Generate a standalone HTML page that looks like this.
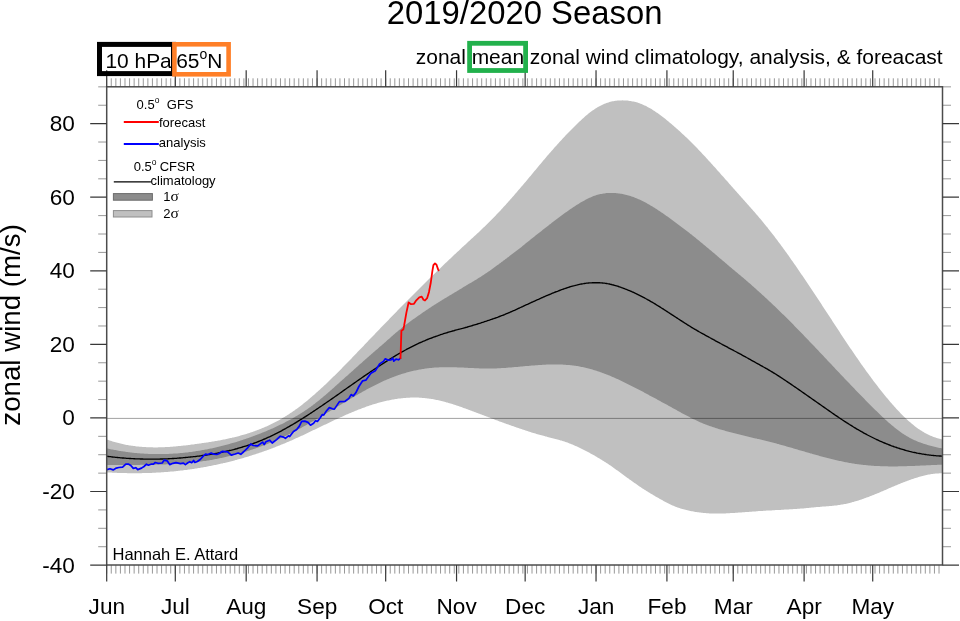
<!DOCTYPE html>
<html lang="en"><head><meta charset="utf-8"><title>2019/2020 Season</title>
<style>html,body{margin:0;padding:0;background:#fff;}svg{display:block;}text{font-family:"Liberation Sans",Arial,Helvetica,sans-serif;fill:#000;}.sym{font-family:"Liberation Serif","DejaVu Serif",serif;}</style></head><body>
<svg width="960" height="621" viewBox="0 0 960 621">
<rect x="0" y="0" width="960" height="621" fill="#ffffff"/>
<polygon fill="#c0c0c0" points="106.5,439.4 107.5,439.8 108.5,440.1 109.5,440.5 110.5,440.8 111.5,441.1 112.5,441.4 113.5,441.7 114.5,442.0 115.5,442.3 116.5,442.6 117.5,442.8 118.5,443.1 119.5,443.3 120.5,443.6 121.5,443.8 122.5,444.0 123.5,444.3 124.5,444.5 125.5,444.7 126.5,444.9 127.5,445.0 128.5,445.2 129.5,445.4 130.5,445.5 131.5,445.7 132.5,445.8 133.5,446.0 134.5,446.1 135.5,446.2 136.5,446.4 137.5,446.5 138.5,446.6 139.5,446.7 140.5,446.8 141.5,446.8 142.5,446.9 143.5,447.0 144.5,447.0 145.5,447.1 146.5,447.2 147.5,447.2 148.5,447.2 149.5,447.3 150.5,447.3 151.5,447.3 152.5,447.3 153.5,447.4 154.5,447.4 155.5,447.4 156.5,447.4 157.5,447.4 158.5,447.3 159.5,447.3 160.5,447.3 161.5,447.3 162.5,447.2 163.5,447.2 164.5,447.2 165.5,447.1 166.5,447.1 167.5,447.0 168.5,446.9 169.5,446.9 170.5,446.8 171.5,446.7 172.5,446.7 173.5,446.6 174.5,446.5 175.5,446.4 176.5,446.3 177.5,446.2 178.5,446.1 179.5,446.0 180.5,445.9 181.5,445.8 182.5,445.7 183.5,445.6 184.5,445.5 185.5,445.4 186.5,445.3 187.5,445.2 188.5,445.0 189.5,444.9 190.5,444.8 191.5,444.6 192.5,444.5 193.5,444.4 194.5,444.3 195.5,444.1 196.5,444.0 197.5,443.8 198.5,443.7 199.5,443.6 200.5,443.4 201.5,443.3 202.5,443.1 203.5,443.0 204.5,442.8 205.5,442.7 206.5,442.5 207.5,442.4 208.5,442.2 209.5,442.1 210.5,441.9 211.5,441.7 212.5,441.6 213.5,441.4 214.5,441.2 215.5,441.1 216.5,440.9 217.5,440.7 218.5,440.5 219.5,440.4 220.5,440.2 221.5,440.0 222.5,439.8 223.5,439.6 224.5,439.4 225.5,439.2 226.5,439.0 227.5,438.8 228.5,438.5 229.5,438.3 230.5,438.1 231.5,437.9 232.5,437.6 233.5,437.4 234.5,437.2 235.5,436.9 236.5,436.7 237.5,436.4 238.5,436.2 239.5,435.9 240.5,435.6 241.5,435.3 242.5,435.1 243.5,434.8 244.5,434.5 245.5,434.2 246.5,433.9 247.5,433.6 248.5,433.2 249.5,432.9 250.5,432.6 251.5,432.3 252.5,431.9 253.5,431.6 254.5,431.2 255.5,430.8 256.5,430.5 257.5,430.1 258.5,429.7 259.5,429.3 260.5,428.9 261.5,428.5 262.5,428.1 263.5,427.7 264.5,427.3 265.5,426.8 266.5,426.4 267.5,425.9 268.5,425.5 269.5,425.0 270.5,424.5 271.5,424.0 272.5,423.6 273.5,423.1 274.5,422.5 275.5,422.0 276.5,421.5 277.5,421.0 278.5,420.4 279.5,419.9 280.5,419.3 281.5,418.7 282.5,418.1 283.5,417.5 284.5,416.9 285.5,416.3 286.5,415.7 287.5,415.1 288.5,414.4 289.5,413.8 290.5,413.1 291.5,412.4 292.5,411.7 293.5,411.1 294.5,410.4 295.5,409.6 296.5,408.9 297.5,408.2 298.5,407.4 299.5,406.7 300.5,405.9 301.5,405.2 302.5,404.4 303.5,403.6 304.5,402.8 305.5,402.0 306.5,401.2 307.5,400.4 308.5,399.5 309.5,398.7 310.5,397.8 311.5,397.0 312.5,396.1 313.5,395.3 314.5,394.4 315.5,393.5 316.5,392.6 317.5,391.7 318.5,390.8 319.5,389.9 320.5,389.0 321.5,388.1 322.5,387.2 323.5,386.2 324.5,385.3 325.5,384.4 326.5,383.4 327.5,382.5 328.5,381.5 329.5,380.5 330.5,379.6 331.5,378.6 332.5,377.6 333.5,376.6 334.5,375.7 335.5,374.7 336.5,373.7 337.5,372.7 338.5,371.7 339.5,370.7 340.5,369.7 341.5,368.7 342.5,367.6 343.5,366.6 344.5,365.6 345.5,364.6 346.5,363.5 347.5,362.5 348.5,361.5 349.5,360.5 350.5,359.4 351.5,358.4 352.5,357.3 353.5,356.3 354.5,355.3 355.5,354.2 356.5,353.2 357.5,352.1 358.5,351.1 359.5,350.0 360.5,349.0 361.5,348.0 362.5,346.9 363.5,345.9 364.5,344.8 365.5,343.8 366.5,342.7 367.5,341.7 368.5,340.6 369.5,339.6 370.5,338.5 371.5,337.5 372.5,336.4 373.5,335.4 374.5,334.4 375.5,333.3 376.5,332.3 377.5,331.2 378.5,330.2 379.5,329.2 380.5,328.1 381.5,327.1 382.5,326.1 383.5,325.0 384.5,324.0 385.5,323.0 386.5,321.9 387.5,320.9 388.5,319.9 389.5,318.8 390.5,317.8 391.5,316.8 392.5,315.8 393.5,314.7 394.5,313.7 395.5,312.7 396.5,311.7 397.5,310.6 398.5,309.6 399.5,308.6 400.5,307.6 401.5,306.6 402.5,305.6 403.5,304.5 404.5,303.5 405.5,302.5 406.5,301.5 407.5,300.5 408.5,299.5 409.5,298.5 410.5,297.5 411.5,296.5 412.5,295.5 413.5,294.5 414.5,293.5 415.5,292.5 416.5,291.5 417.5,290.5 418.5,289.5 419.5,288.5 420.5,287.5 421.5,286.5 422.5,285.5 423.5,284.5 424.5,283.5 425.5,282.6 426.5,281.6 427.5,280.6 428.5,279.6 429.5,278.6 430.5,277.6 431.5,276.7 432.5,275.7 433.5,274.7 434.5,273.7 435.5,272.8 436.5,271.8 437.5,270.8 438.5,269.9 439.5,268.9 440.5,267.9 441.5,267.0 442.5,266.0 443.5,265.1 444.5,264.1 445.5,263.1 446.5,262.2 447.5,261.2 448.5,260.3 449.5,259.3 450.5,258.4 451.5,257.4 452.5,256.5 453.5,255.5 454.5,254.6 455.5,253.7 456.5,252.7 457.5,251.8 458.5,250.9 459.5,249.9 460.5,249.0 461.5,248.1 462.5,247.1 463.5,246.2 464.5,245.3 465.5,244.4 466.5,243.4 467.5,242.5 468.5,241.6 469.5,240.7 470.5,239.8 471.5,238.8 472.5,237.9 473.5,237.0 474.5,236.1 475.5,235.2 476.5,234.2 477.5,233.3 478.5,232.4 479.5,231.4 480.5,230.5 481.5,229.5 482.5,228.6 483.5,227.6 484.5,226.7 485.5,225.7 486.5,224.7 487.5,223.8 488.5,222.8 489.5,221.8 490.5,220.8 491.5,219.8 492.5,218.8 493.5,217.7 494.5,216.7 495.5,215.7 496.5,214.6 497.5,213.6 498.5,212.5 499.5,211.4 500.5,210.4 501.5,209.3 502.5,208.2 503.5,207.1 504.5,206.0 505.5,204.9 506.5,203.8 507.5,202.7 508.5,201.6 509.5,200.5 510.5,199.3 511.5,198.2 512.5,197.0 513.5,195.9 514.5,194.8 515.5,193.6 516.5,192.4 517.5,191.3 518.5,190.1 519.5,189.0 520.5,187.8 521.5,186.6 522.5,185.4 523.5,184.2 524.5,183.1 525.5,181.9 526.5,180.7 527.5,179.5 528.5,178.3 529.5,177.1 530.5,175.9 531.5,174.7 532.5,173.5 533.5,172.3 534.5,171.1 535.5,169.9 536.5,168.7 537.5,167.5 538.5,166.3 539.5,165.1 540.5,163.9 541.5,162.7 542.5,161.5 543.5,160.3 544.5,159.2 545.5,158.0 546.5,156.8 547.5,155.6 548.5,154.5 549.5,153.3 550.5,152.2 551.5,151.0 552.5,149.9 553.5,148.8 554.5,147.6 555.5,146.5 556.5,145.4 557.5,144.3 558.5,143.2 559.5,142.1 560.5,141.0 561.5,139.9 562.5,138.8 563.5,137.7 564.5,136.7 565.5,135.6 566.5,134.6 567.5,133.5 568.5,132.5 569.5,131.4 570.5,130.4 571.5,129.4 572.5,128.4 573.5,127.4 574.5,126.4 575.5,125.4 576.5,124.5 577.5,123.5 578.5,122.5 579.5,121.6 580.5,120.7 581.5,119.7 582.5,118.8 583.5,117.9 584.5,117.0 585.5,116.1 586.5,115.3 587.5,114.4 588.5,113.6 589.5,112.8 590.5,112.1 591.5,111.3 592.5,110.6 593.5,109.9 594.5,109.2 595.5,108.5 596.5,107.9 597.5,107.3 598.5,106.7 599.5,106.2 600.5,105.7 601.5,105.2 602.5,104.7 603.5,104.2 604.5,103.8 605.5,103.4 606.5,103.0 607.5,102.7 608.5,102.4 609.5,102.1 610.5,101.8 611.5,101.6 612.5,101.3 613.5,101.2 614.5,101.0 615.5,100.8 616.5,100.7 617.5,100.6 618.5,100.5 619.5,100.4 620.5,100.4 621.5,100.4 622.5,100.3 623.5,100.4 624.5,100.4 625.5,100.4 626.5,100.5 627.5,100.6 628.5,100.7 629.5,100.9 630.5,101.0 631.5,101.2 632.5,101.4 633.5,101.6 634.5,101.8 635.5,102.1 636.5,102.3 637.5,102.6 638.5,103.0 639.5,103.3 640.5,103.7 641.5,104.1 642.5,104.5 643.5,104.9 644.5,105.4 645.5,105.8 646.5,106.3 647.5,106.9 648.5,107.4 649.5,108.0 650.5,108.6 651.5,109.1 652.5,109.8 653.5,110.4 654.5,111.0 655.5,111.7 656.5,112.4 657.5,113.1 658.5,113.8 659.5,114.5 660.5,115.2 661.5,116.0 662.5,116.7 663.5,117.5 664.5,118.3 665.5,119.1 666.5,119.9 667.5,120.7 668.5,121.5 669.5,122.4 670.5,123.2 671.5,124.1 672.5,124.9 673.5,125.8 674.5,126.7 675.5,127.6 676.5,128.4 677.5,129.3 678.5,130.2 679.5,131.1 680.5,132.0 681.5,133.0 682.5,133.9 683.5,134.8 684.5,135.7 685.5,136.7 686.5,137.6 687.5,138.6 688.5,139.6 689.5,140.5 690.5,141.5 691.5,142.5 692.5,143.5 693.5,144.5 694.5,145.5 695.5,146.5 696.5,147.6 697.5,148.6 698.5,149.7 699.5,150.7 700.5,151.8 701.5,152.8 702.5,153.9 703.5,155.0 704.5,156.0 705.5,157.1 706.5,158.2 707.5,159.3 708.5,160.4 709.5,161.5 710.5,162.6 711.5,163.7 712.5,164.8 713.5,165.9 714.5,167.0 715.5,168.1 716.5,169.2 717.5,170.4 718.5,171.5 719.5,172.6 720.5,173.7 721.5,174.9 722.5,176.0 723.5,177.1 724.5,178.2 725.5,179.4 726.5,180.5 727.5,181.6 728.5,182.8 729.5,183.9 730.5,185.0 731.5,186.2 732.5,187.3 733.5,188.4 734.5,189.6 735.5,190.7 736.5,191.8 737.5,192.9 738.5,194.1 739.5,195.2 740.5,196.3 741.5,197.5 742.5,198.6 743.5,199.7 744.5,200.8 745.5,201.9 746.5,203.1 747.5,204.2 748.5,205.3 749.5,206.4 750.5,207.6 751.5,208.7 752.5,209.8 753.5,211.0 754.5,212.1 755.5,213.3 756.5,214.4 757.5,215.6 758.5,216.7 759.5,217.9 760.5,219.1 761.5,220.3 762.5,221.5 763.5,222.7 764.5,223.9 765.5,225.2 766.5,226.4 767.5,227.6 768.5,228.9 769.5,230.2 770.5,231.4 771.5,232.7 772.5,234.0 773.5,235.3 774.5,236.6 775.5,237.9 776.5,239.2 777.5,240.5 778.5,241.9 779.5,243.2 780.5,244.6 781.5,245.9 782.5,247.3 783.5,248.7 784.5,250.0 785.5,251.4 786.5,252.8 787.5,254.2 788.5,255.6 789.5,257.1 790.5,258.5 791.5,259.9 792.5,261.3 793.5,262.8 794.5,264.2 795.5,265.6 796.5,267.1 797.5,268.5 798.5,270.0 799.5,271.4 800.5,272.9 801.5,274.4 802.5,275.8 803.5,277.3 804.5,278.8 805.5,280.3 806.5,281.7 807.5,283.2 808.5,284.7 809.5,286.2 810.5,287.7 811.5,289.2 812.5,290.7 813.5,292.2 814.5,293.7 815.5,295.2 816.5,296.7 817.5,298.2 818.5,299.8 819.5,301.3 820.5,302.8 821.5,304.3 822.5,305.9 823.5,307.4 824.5,308.9 825.5,310.4 826.5,312.0 827.5,313.5 828.5,315.0 829.5,316.6 830.5,318.1 831.5,319.6 832.5,321.2 833.5,322.7 834.5,324.2 835.5,325.7 836.5,327.3 837.5,328.8 838.5,330.3 839.5,331.8 840.5,333.4 841.5,334.9 842.5,336.4 843.5,337.9 844.5,339.4 845.5,340.9 846.5,342.4 847.5,343.9 848.5,345.4 849.5,346.9 850.5,348.4 851.5,349.8 852.5,351.3 853.5,352.8 854.5,354.3 855.5,355.7 856.5,357.2 857.5,358.6 858.5,360.1 859.5,361.5 860.5,362.9 861.5,364.4 862.5,365.8 863.5,367.2 864.5,368.6 865.5,370.0 866.5,371.4 867.5,372.7 868.5,374.1 869.5,375.5 870.5,376.8 871.5,378.2 872.5,379.5 873.5,380.9 874.5,382.2 875.5,383.5 876.5,384.8 877.5,386.1 878.5,387.4 879.5,388.7 880.5,389.9 881.5,391.2 882.5,392.5 883.5,393.7 884.5,395.0 885.5,396.2 886.5,397.4 887.5,398.6 888.5,399.8 889.5,401.0 890.5,402.2 891.5,403.3 892.5,404.5 893.5,405.6 894.5,406.7 895.5,407.8 896.5,408.9 897.5,410.0 898.5,411.1 899.5,412.1 900.5,413.2 901.5,414.2 902.5,415.2 903.5,416.2 904.5,417.2 905.5,418.1 906.5,419.1 907.5,420.0 908.5,420.9 909.5,421.8 910.5,422.6 911.5,423.5 912.5,424.3 913.5,425.1 914.5,425.9 915.5,426.7 916.5,427.4 917.5,428.2 918.5,428.9 919.5,429.5 920.5,430.2 921.5,430.8 922.5,431.5 923.5,432.1 924.5,432.7 925.5,433.2 926.5,433.7 927.5,434.3 928.5,434.8 929.5,435.2 930.5,435.7 931.5,436.1 932.5,436.5 933.5,436.9 934.5,437.3 935.5,437.6 936.5,438.0 937.5,438.2 938.5,438.5 939.5,438.8 940.5,439.0 941.5,439.2 942.5,439.4 942.5,473.3 941.5,473.3 940.5,473.3 939.5,473.3 938.5,473.4 937.5,473.4 936.5,473.5 935.5,473.6 934.5,473.7 933.5,473.8 932.5,473.9 931.5,474.1 930.5,474.2 929.5,474.4 928.5,474.6 927.5,474.8 926.5,475.0 925.5,475.2 924.5,475.5 923.5,475.7 922.5,476.0 921.5,476.2 920.5,476.5 919.5,476.8 918.5,477.1 917.5,477.4 916.5,477.7 915.5,478.0 914.5,478.3 913.5,478.7 912.5,479.0 911.5,479.3 910.5,479.7 909.5,480.1 908.5,480.4 907.5,480.8 906.5,481.2 905.5,481.5 904.5,481.9 903.5,482.3 902.5,482.7 901.5,483.1 900.5,483.5 899.5,483.9 898.5,484.3 897.5,484.7 896.5,485.2 895.5,485.6 894.5,486.0 893.5,486.4 892.5,486.8 891.5,487.3 890.5,487.7 889.5,488.1 888.5,488.6 887.5,489.0 886.5,489.4 885.5,489.9 884.5,490.3 883.5,490.7 882.5,491.2 881.5,491.6 880.5,492.0 879.5,492.4 878.5,492.9 877.5,493.3 876.5,493.7 875.5,494.1 874.5,494.5 873.5,494.9 872.5,495.3 871.5,495.7 870.5,496.1 869.5,496.5 868.5,496.9 867.5,497.2 866.5,497.6 865.5,498.0 864.5,498.3 863.5,498.7 862.5,499.0 861.5,499.4 860.5,499.7 859.5,500.0 858.5,500.4 857.5,500.7 856.5,501.0 855.5,501.3 854.5,501.6 853.5,501.9 852.5,502.1 851.5,502.4 850.5,502.7 849.5,502.9 848.5,503.2 847.5,503.4 846.5,503.7 845.5,503.9 844.5,504.1 843.5,504.3 842.5,504.5 841.5,504.6 840.5,504.8 839.5,505.0 838.5,505.1 837.5,505.3 836.5,505.4 835.5,505.5 834.5,505.6 833.5,505.7 832.5,505.8 831.5,505.9 830.5,506.0 829.5,506.1 828.5,506.2 827.5,506.2 826.5,506.3 825.5,506.4 824.5,506.5 823.5,506.6 822.5,506.6 821.5,506.7 820.5,506.8 819.5,506.9 818.5,507.0 817.5,507.1 816.5,507.1 815.5,507.2 814.5,507.3 813.5,507.4 812.5,507.5 811.5,507.6 810.5,507.7 809.5,507.8 808.5,507.9 807.5,508.0 806.5,508.1 805.5,508.2 804.5,508.3 803.5,508.4 802.5,508.4 801.5,508.5 800.5,508.6 799.5,508.7 798.5,508.7 797.5,508.8 796.5,508.9 795.5,509.0 794.5,509.0 793.5,509.1 792.5,509.2 791.5,509.2 790.5,509.3 789.5,509.3 788.5,509.4 787.5,509.5 786.5,509.5 785.5,509.6 784.5,509.6 783.5,509.7 782.5,509.8 781.5,509.8 780.5,509.9 779.5,509.9 778.5,510.0 777.5,510.0 776.5,510.1 775.5,510.1 774.5,510.2 773.5,510.2 772.5,510.3 771.5,510.4 770.5,510.4 769.5,510.5 768.5,510.5 767.5,510.6 766.5,510.6 765.5,510.7 764.5,510.8 763.5,510.8 762.5,510.9 761.5,510.9 760.5,511.0 759.5,511.1 758.5,511.1 757.5,511.2 756.5,511.3 755.5,511.4 754.5,511.4 753.5,511.5 752.5,511.6 751.5,511.7 750.5,511.7 749.5,511.8 748.5,511.9 747.5,512.0 746.5,512.0 745.5,512.1 744.5,512.2 743.5,512.3 742.5,512.3 741.5,512.4 740.5,512.5 739.5,512.6 738.5,512.6 737.5,512.7 736.5,512.8 735.5,512.8 734.5,512.9 733.5,513.0 732.5,513.0 731.5,513.1 730.5,513.1 729.5,513.2 728.5,513.2 727.5,513.3 726.5,513.3 725.5,513.4 724.5,513.4 723.5,513.4 722.5,513.5 721.5,513.5 720.5,513.5 719.5,513.5 718.5,513.5 717.5,513.5 716.5,513.5 715.5,513.5 714.5,513.5 713.5,513.5 712.5,513.5 711.5,513.4 710.5,513.4 709.5,513.4 708.5,513.3 707.5,513.2 706.5,513.2 705.5,513.1 704.5,513.0 703.5,512.9 702.5,512.8 701.5,512.7 700.5,512.6 699.5,512.4 698.5,512.3 697.5,512.2 696.5,512.0 695.5,511.9 694.5,511.7 693.5,511.5 692.5,511.3 691.5,511.2 690.5,511.0 689.5,510.8 688.5,510.5 687.5,510.3 686.5,510.1 685.5,509.8 684.5,509.6 683.5,509.3 682.5,509.0 681.5,508.7 680.5,508.4 679.5,508.1 678.5,507.8 677.5,507.4 676.5,507.0 675.5,506.7 674.5,506.2 673.5,505.8 672.5,505.4 671.5,504.9 670.5,504.5 669.5,504.0 668.5,503.5 667.5,503.0 666.5,502.5 665.5,502.0 664.5,501.4 663.5,500.9 662.5,500.3 661.5,499.8 660.5,499.2 659.5,498.7 658.5,498.1 657.5,497.5 656.5,497.0 655.5,496.4 654.5,495.8 653.5,495.2 652.5,494.6 651.5,494.0 650.5,493.4 649.5,492.8 648.5,492.2 647.5,491.6 646.5,491.0 645.5,490.3 644.5,489.7 643.5,489.0 642.5,488.4 641.5,487.7 640.5,487.0 639.5,486.4 638.5,485.7 637.5,485.0 636.5,484.3 635.5,483.6 634.5,482.9 633.5,482.2 632.5,481.5 631.5,480.8 630.5,480.1 629.5,479.4 628.5,478.6 627.5,477.9 626.5,477.2 625.5,476.5 624.5,475.7 623.5,475.0 622.5,474.3 621.5,473.5 620.5,472.8 619.5,472.1 618.5,471.3 617.5,470.6 616.5,469.9 615.5,469.2 614.5,468.4 613.5,467.7 612.5,467.0 611.5,466.3 610.5,465.6 609.5,464.9 608.5,464.3 607.5,463.6 606.5,462.9 605.5,462.3 604.5,461.7 603.5,461.0 602.5,460.4 601.5,459.8 600.5,459.2 599.5,458.6 598.5,458.0 597.5,457.4 596.5,456.8 595.5,456.2 594.5,455.6 593.5,455.0 592.5,454.5 591.5,453.9 590.5,453.4 589.5,452.8 588.5,452.3 587.5,451.7 586.5,451.2 585.5,450.7 584.5,450.2 583.5,449.7 582.5,449.2 581.5,448.7 580.5,448.2 579.5,447.7 578.5,447.2 577.5,446.8 576.5,446.3 575.5,445.9 574.5,445.4 573.5,445.0 572.5,444.6 571.5,444.2 570.5,443.8 569.5,443.4 568.5,443.0 567.5,442.6 566.5,442.3 565.5,441.9 564.5,441.6 563.5,441.3 562.5,440.9 561.5,440.6 560.5,440.4 559.5,440.1 558.5,439.8 557.5,439.5 556.5,439.3 555.5,439.0 554.5,438.7 553.5,438.5 552.5,438.2 551.5,438.0 550.5,437.7 549.5,437.4 548.5,437.2 547.5,436.9 546.5,436.6 545.5,436.4 544.5,436.1 543.5,435.8 542.5,435.6 541.5,435.3 540.5,435.0 539.5,434.8 538.5,434.5 537.5,434.2 536.5,433.9 535.5,433.6 534.5,433.3 533.5,433.0 532.5,432.7 531.5,432.4 530.5,432.1 529.5,431.8 528.5,431.4 527.5,431.1 526.5,430.8 525.5,430.4 524.5,430.1 523.5,429.8 522.5,429.4 521.5,429.1 520.5,428.7 519.5,428.4 518.5,428.1 517.5,427.7 516.5,427.4 515.5,427.0 514.5,426.7 513.5,426.3 512.5,426.0 511.5,425.7 510.5,425.3 509.5,425.0 508.5,424.6 507.5,424.3 506.5,423.9 505.5,423.6 504.5,423.2 503.5,422.8 502.5,422.5 501.5,422.1 500.5,421.7 499.5,421.4 498.5,421.0 497.5,420.6 496.5,420.2 495.5,419.9 494.5,419.5 493.5,419.1 492.5,418.7 491.5,418.4 490.5,418.0 489.5,417.6 488.5,417.2 487.5,416.8 486.5,416.5 485.5,416.1 484.5,415.7 483.5,415.3 482.5,414.9 481.5,414.6 480.5,414.2 479.5,413.8 478.5,413.4 477.5,413.0 476.5,412.7 475.5,412.3 474.5,411.9 473.5,411.5 472.5,411.2 471.5,410.8 470.5,410.4 469.5,410.0 468.5,409.7 467.5,409.3 466.5,408.9 465.5,408.6 464.5,408.2 463.5,407.9 462.5,407.5 461.5,407.1 460.5,406.8 459.5,406.4 458.5,406.1 457.5,405.8 456.5,405.4 455.5,405.1 454.5,404.8 453.5,404.5 452.5,404.1 451.5,403.8 450.5,403.5 449.5,403.2 448.5,402.9 447.5,402.6 446.5,402.4 445.5,402.1 444.5,401.8 443.5,401.5 442.5,401.3 441.5,401.0 440.5,400.8 439.5,400.6 438.5,400.3 437.5,400.1 436.5,399.9 435.5,399.7 434.5,399.5 433.5,399.3 432.5,399.1 431.5,399.0 430.5,398.8 429.5,398.7 428.5,398.5 427.5,398.4 426.5,398.3 425.5,398.2 424.5,398.1 423.5,398.0 422.5,397.9 421.5,397.8 420.5,397.7 419.5,397.7 418.5,397.6 417.5,397.6 416.5,397.6 415.5,397.6 414.5,397.6 413.5,397.6 412.5,397.6 411.5,397.6 410.5,397.6 409.5,397.7 408.5,397.7 407.5,397.8 406.5,397.8 405.5,397.9 404.5,398.0 403.5,398.1 402.5,398.2 401.5,398.3 400.5,398.4 399.5,398.5 398.5,398.6 397.5,398.8 396.5,398.9 395.5,399.1 394.5,399.2 393.5,399.4 392.5,399.6 391.5,399.8 390.5,400.0 389.5,400.2 388.5,400.4 387.5,400.6 386.5,400.8 385.5,401.0 384.5,401.3 383.5,401.5 382.5,401.8 381.5,402.0 380.5,402.3 379.5,402.6 378.5,402.8 377.5,403.1 376.5,403.4 375.5,403.7 374.5,404.0 373.5,404.3 372.5,404.6 371.5,405.0 370.5,405.3 369.5,405.6 368.5,406.0 367.5,406.3 366.5,406.6 365.5,407.0 364.5,407.4 363.5,407.7 362.5,408.1 361.5,408.5 360.5,408.9 359.5,409.2 358.5,409.6 357.5,410.0 356.5,410.4 355.5,410.8 354.5,411.2 353.5,411.7 352.5,412.1 351.5,412.5 350.5,412.9 349.5,413.3 348.5,413.8 347.5,414.2 346.5,414.6 345.5,415.1 344.5,415.5 343.5,416.0 342.5,416.4 341.5,416.9 340.5,417.3 339.5,417.8 338.5,418.2 337.5,418.7 336.5,419.2 335.5,419.6 334.5,420.1 333.5,420.6 332.5,421.0 331.5,421.5 330.5,422.0 329.5,422.5 328.5,422.9 327.5,423.4 326.5,423.9 325.5,424.4 324.5,424.8 323.5,425.3 322.5,425.8 321.5,426.3 320.5,426.8 319.5,427.2 318.5,427.7 317.5,428.2 316.5,428.7 315.5,429.2 314.5,429.7 313.5,430.1 312.5,430.6 311.5,431.1 310.5,431.6 309.5,432.1 308.5,432.5 307.5,433.0 306.5,433.5 305.5,433.9 304.5,434.4 303.5,434.9 302.5,435.4 301.5,435.8 300.5,436.3 299.5,436.8 298.5,437.2 297.5,437.7 296.5,438.1 295.5,438.6 294.5,439.0 293.5,439.5 292.5,439.9 291.5,440.4 290.5,440.8 289.5,441.2 288.5,441.7 287.5,442.1 286.5,442.5 285.5,442.9 284.5,443.4 283.5,443.8 282.5,444.2 281.5,444.6 280.5,445.0 279.5,445.4 278.5,445.8 277.5,446.2 276.5,446.6 275.5,447.0 274.5,447.4 273.5,447.8 272.5,448.2 271.5,448.5 270.5,448.9 269.5,449.3 268.5,449.7 267.5,450.0 266.5,450.4 265.5,450.7 264.5,451.1 263.5,451.5 262.5,451.8 261.5,452.2 260.5,452.5 259.5,452.8 258.5,453.2 257.5,453.5 256.5,453.8 255.5,454.2 254.5,454.5 253.5,454.8 252.5,455.1 251.5,455.5 250.5,455.8 249.5,456.1 248.5,456.4 247.5,456.7 246.5,457.0 245.5,457.3 244.5,457.6 243.5,457.9 242.5,458.2 241.5,458.5 240.5,458.8 239.5,459.0 238.5,459.3 237.5,459.6 236.5,459.9 235.5,460.1 234.5,460.4 233.5,460.7 232.5,460.9 231.5,461.2 230.5,461.4 229.5,461.7 228.5,461.9 227.5,462.2 226.5,462.4 225.5,462.7 224.5,462.9 223.5,463.1 222.5,463.4 221.5,463.6 220.5,463.8 219.5,464.1 218.5,464.3 217.5,464.5 216.5,464.7 215.5,464.9 214.5,465.1 213.5,465.3 212.5,465.5 211.5,465.7 210.5,465.9 209.5,466.1 208.5,466.3 207.5,466.5 206.5,466.7 205.5,466.9 204.5,467.1 203.5,467.2 202.5,467.4 201.5,467.6 200.5,467.8 199.5,467.9 198.5,468.1 197.5,468.3 196.5,468.4 195.5,468.6 194.5,468.7 193.5,468.9 192.5,469.0 191.5,469.2 190.5,469.3 189.5,469.5 188.5,469.6 187.5,469.7 186.5,469.9 185.5,470.0 184.5,470.1 183.5,470.3 182.5,470.4 181.5,470.5 180.5,470.6 179.5,470.7 178.5,470.8 177.5,470.9 176.5,471.1 175.5,471.2 174.5,471.3 173.5,471.4 172.5,471.5 171.5,471.5 170.5,471.6 169.5,471.7 168.5,471.8 167.5,471.9 166.5,472.0 165.5,472.0 164.5,472.1 163.5,472.2 162.5,472.3 161.5,472.3 160.5,472.4 159.5,472.5 158.5,472.5 157.5,472.6 156.5,472.6 155.5,472.7 154.5,472.7 153.5,472.8 152.5,472.8 151.5,472.9 150.5,472.9 149.5,473.0 148.5,473.0 147.5,473.0 146.5,473.1 145.5,473.1 144.5,473.1 143.5,473.1 142.5,473.1 141.5,473.2 140.5,473.2 139.5,473.2 138.5,473.2 137.5,473.2 136.5,473.2 135.5,473.2 134.5,473.2 133.5,473.2 132.5,473.2 131.5,473.2 130.5,473.2 129.5,473.2 128.5,473.2 127.5,473.2 126.5,473.1 125.5,473.1 124.5,473.1 123.5,473.1 122.5,473.1 121.5,473.0 120.5,473.0 119.5,473.0 118.5,472.9 117.5,472.9 116.5,472.8 115.5,472.8 114.5,472.8 113.5,472.7 112.5,472.7 111.5,472.6 110.5,472.6 109.5,472.5 108.5,472.4 107.5,472.4 106.5,472.3"/>
<polygon fill="#8c8c8c" points="106.5,448.3 107.5,448.5 108.5,448.7 109.5,449.0 110.5,449.2 111.5,449.4 112.5,449.6 113.5,449.8 114.5,450.0 115.5,450.1 116.5,450.3 117.5,450.5 118.5,450.7 119.5,450.9 120.5,451.0 121.5,451.2 122.5,451.3 123.5,451.5 124.5,451.6 125.5,451.8 126.5,451.9 127.5,452.1 128.5,452.2 129.5,452.3 130.5,452.4 131.5,452.5 132.5,452.7 133.5,452.8 134.5,452.9 135.5,453.0 136.5,453.1 137.5,453.2 138.5,453.2 139.5,453.3 140.5,453.4 141.5,453.5 142.5,453.6 143.5,453.6 144.5,453.7 145.5,453.7 146.5,453.8 147.5,453.8 148.5,453.9 149.5,453.9 150.5,454.0 151.5,454.0 152.5,454.0 153.5,454.0 154.5,454.1 155.5,454.1 156.5,454.1 157.5,454.1 158.5,454.1 159.5,454.1 160.5,454.1 161.5,454.1 162.5,454.1 163.5,454.0 164.5,454.0 165.5,454.0 166.5,454.0 167.5,453.9 168.5,453.9 169.5,453.8 170.5,453.8 171.5,453.7 172.5,453.7 173.5,453.6 174.5,453.6 175.5,453.5 176.5,453.4 177.5,453.4 178.5,453.3 179.5,453.2 180.5,453.1 181.5,453.0 182.5,452.9 183.5,452.8 184.5,452.7 185.5,452.6 186.5,452.5 187.5,452.4 188.5,452.2 189.5,452.1 190.5,452.0 191.5,451.9 192.5,451.7 193.5,451.6 194.5,451.4 195.5,451.3 196.5,451.1 197.5,451.0 198.5,450.8 199.5,450.7 200.5,450.5 201.5,450.3 202.5,450.1 203.5,450.0 204.5,449.8 205.5,449.6 206.5,449.4 207.5,449.2 208.5,449.0 209.5,448.8 210.5,448.6 211.5,448.4 212.5,448.2 213.5,447.9 214.5,447.7 215.5,447.5 216.5,447.3 217.5,447.0 218.5,446.8 219.5,446.6 220.5,446.3 221.5,446.1 222.5,445.8 223.5,445.5 224.5,445.3 225.5,445.0 226.5,444.7 227.5,444.5 228.5,444.2 229.5,443.9 230.5,443.6 231.5,443.3 232.5,443.1 233.5,442.8 234.5,442.5 235.5,442.2 236.5,441.9 237.5,441.5 238.5,441.2 239.5,440.9 240.5,440.6 241.5,440.3 242.5,439.9 243.5,439.6 244.5,439.3 245.5,438.9 246.5,438.6 247.5,438.2 248.5,437.9 249.5,437.5 250.5,437.2 251.5,436.8 252.5,436.4 253.5,436.1 254.5,435.7 255.5,435.3 256.5,434.9 257.5,434.6 258.5,434.2 259.5,433.8 260.5,433.4 261.5,433.0 262.5,432.6 263.5,432.2 264.5,431.8 265.5,431.4 266.5,430.9 267.5,430.5 268.5,430.1 269.5,429.7 270.5,429.2 271.5,428.8 272.5,428.4 273.5,427.9 274.5,427.5 275.5,427.0 276.5,426.5 277.5,426.1 278.5,425.6 279.5,425.1 280.5,424.6 281.5,424.2 282.5,423.7 283.5,423.2 284.5,422.7 285.5,422.1 286.5,421.6 287.5,421.1 288.5,420.6 289.5,420.0 290.5,419.5 291.5,418.9 292.5,418.4 293.5,417.8 294.5,417.2 295.5,416.6 296.5,416.0 297.5,415.4 298.5,414.8 299.5,414.2 300.5,413.6 301.5,413.0 302.5,412.3 303.5,411.7 304.5,411.0 305.5,410.3 306.5,409.7 307.5,409.0 308.5,408.3 309.5,407.6 310.5,406.9 311.5,406.1 312.5,405.4 313.5,404.6 314.5,403.9 315.5,403.1 316.5,402.3 317.5,401.5 318.5,400.7 319.5,399.9 320.5,399.1 321.5,398.3 322.5,397.5 323.5,396.6 324.5,395.8 325.5,394.9 326.5,394.1 327.5,393.2 328.5,392.3 329.5,391.4 330.5,390.6 331.5,389.7 332.5,388.8 333.5,387.9 334.5,387.0 335.5,386.1 336.5,385.2 337.5,384.3 338.5,383.4 339.5,382.5 340.5,381.6 341.5,380.7 342.5,379.8 343.5,378.9 344.5,378.0 345.5,377.1 346.5,376.2 347.5,375.4 348.5,374.5 349.5,373.6 350.5,372.7 351.5,371.8 352.5,370.9 353.5,370.0 354.5,369.1 355.5,368.2 356.5,367.3 357.5,366.4 358.5,365.5 359.5,364.6 360.5,363.7 361.5,362.9 362.5,362.0 363.5,361.1 364.5,360.2 365.5,359.3 366.5,358.4 367.5,357.6 368.5,356.7 369.5,355.8 370.5,354.9 371.5,354.1 372.5,353.2 373.5,352.3 374.5,351.5 375.5,350.6 376.5,349.7 377.5,348.9 378.5,348.0 379.5,347.1 380.5,346.3 381.5,345.4 382.5,344.5 383.5,343.7 384.5,342.8 385.5,341.9 386.5,341.0 387.5,340.1 388.5,339.3 389.5,338.4 390.5,337.5 391.5,336.6 392.5,335.7 393.5,334.8 394.5,334.0 395.5,333.1 396.5,332.3 397.5,331.4 398.5,330.6 399.5,329.7 400.5,328.9 401.5,328.1 402.5,327.3 403.5,326.5 404.5,325.8 405.5,325.0 406.5,324.2 407.5,323.5 408.5,322.7 409.5,322.0 410.5,321.3 411.5,320.5 412.5,319.8 413.5,319.1 414.5,318.4 415.5,317.7 416.5,317.0 417.5,316.3 418.5,315.6 419.5,314.9 420.5,314.2 421.5,313.5 422.5,312.8 423.5,312.1 424.5,311.4 425.5,310.7 426.5,310.1 427.5,309.4 428.5,308.7 429.5,308.1 430.5,307.4 431.5,306.8 432.5,306.1 433.5,305.5 434.5,304.8 435.5,304.2 436.5,303.6 437.5,302.9 438.5,302.3 439.5,301.7 440.5,301.0 441.5,300.4 442.5,299.8 443.5,299.2 444.5,298.6 445.5,298.0 446.5,297.4 447.5,296.8 448.5,296.2 449.5,295.6 450.5,295.0 451.5,294.4 452.5,293.8 453.5,293.2 454.5,292.6 455.5,292.0 456.5,291.4 457.5,290.8 458.5,290.2 459.5,289.6 460.5,289.0 461.5,288.4 462.5,287.7 463.5,287.1 464.5,286.5 465.5,285.9 466.5,285.3 467.5,284.7 468.5,284.1 469.5,283.5 470.5,283.0 471.5,282.4 472.5,281.8 473.5,281.2 474.5,280.6 475.5,280.0 476.5,279.4 477.5,278.8 478.5,278.1 479.5,277.5 480.5,276.9 481.5,276.3 482.5,275.6 483.5,274.9 484.5,274.3 485.5,273.6 486.5,272.9 487.5,272.3 488.5,271.6 489.5,270.9 490.5,270.2 491.5,269.5 492.5,268.7 493.5,268.0 494.5,267.3 495.5,266.6 496.5,265.8 497.5,265.1 498.5,264.4 499.5,263.6 500.5,262.9 501.5,262.1 502.5,261.4 503.5,260.6 504.5,259.9 505.5,259.1 506.5,258.4 507.5,257.6 508.5,256.9 509.5,256.1 510.5,255.3 511.5,254.6 512.5,253.8 513.5,253.1 514.5,252.3 515.5,251.6 516.5,250.8 517.5,250.0 518.5,249.2 519.5,248.4 520.5,247.7 521.5,246.9 522.5,246.1 523.5,245.3 524.5,244.4 525.5,243.6 526.5,242.8 527.5,242.0 528.5,241.2 529.5,240.4 530.5,239.6 531.5,238.8 532.5,238.0 533.5,237.2 534.5,236.4 535.5,235.6 536.5,234.8 537.5,234.0 538.5,233.2 539.5,232.4 540.5,231.7 541.5,230.9 542.5,230.1 543.5,229.3 544.5,228.6 545.5,227.8 546.5,227.0 547.5,226.2 548.5,225.4 549.5,224.6 550.5,223.9 551.5,223.1 552.5,222.3 553.5,221.5 554.5,220.8 555.5,220.0 556.5,219.2 557.5,218.5 558.5,217.7 559.5,216.9 560.5,216.2 561.5,215.5 562.5,214.7 563.5,214.0 564.5,213.3 565.5,212.6 566.5,211.9 567.5,211.2 568.5,210.5 569.5,209.8 570.5,209.1 571.5,208.4 572.5,207.7 573.5,207.1 574.5,206.4 575.5,205.8 576.5,205.1 577.5,204.5 578.5,203.9 579.5,203.3 580.5,202.6 581.5,202.1 582.5,201.5 583.5,200.9 584.5,200.4 585.5,199.8 586.5,199.3 587.5,198.8 588.5,198.3 589.5,197.8 590.5,197.4 591.5,196.9 592.5,196.5 593.5,196.1 594.5,195.8 595.5,195.4 596.5,195.1 597.5,194.8 598.5,194.6 599.5,194.3 600.5,194.1 601.5,193.9 602.5,193.7 603.5,193.5 604.5,193.4 605.5,193.2 606.5,193.1 607.5,193.1 608.5,193.0 609.5,193.0 610.5,192.9 611.5,192.9 612.5,192.9 613.5,193.0 614.5,193.0 615.5,193.1 616.5,193.2 617.5,193.3 618.5,193.4 619.5,193.5 620.5,193.7 621.5,193.8 622.5,194.0 623.5,194.2 624.5,194.4 625.5,194.7 626.5,194.9 627.5,195.2 628.5,195.5 629.5,195.8 630.5,196.1 631.5,196.4 632.5,196.8 633.5,197.1 634.5,197.5 635.5,197.9 636.5,198.3 637.5,198.7 638.5,199.2 639.5,199.6 640.5,200.1 641.5,200.6 642.5,201.1 643.5,201.6 644.5,202.1 645.5,202.6 646.5,203.1 647.5,203.7 648.5,204.3 649.5,204.8 650.5,205.4 651.5,206.0 652.5,206.6 653.5,207.2 654.5,207.8 655.5,208.5 656.5,209.1 657.5,209.8 658.5,210.4 659.5,211.1 660.5,211.7 661.5,212.4 662.5,213.1 663.5,213.8 664.5,214.5 665.5,215.2 666.5,215.9 667.5,216.6 668.5,217.3 669.5,218.0 670.5,218.7 671.5,219.5 672.5,220.2 673.5,220.9 674.5,221.7 675.5,222.4 676.5,223.2 677.5,223.9 678.5,224.7 679.5,225.4 680.5,226.2 681.5,226.9 682.5,227.7 683.5,228.4 684.5,229.2 685.5,230.0 686.5,230.7 687.5,231.5 688.5,232.3 689.5,233.1 690.5,233.9 691.5,234.6 692.5,235.4 693.5,236.2 694.5,237.0 695.5,237.8 696.5,238.7 697.5,239.5 698.5,240.3 699.5,241.1 700.5,241.9 701.5,242.7 702.5,243.6 703.5,244.4 704.5,245.2 705.5,246.1 706.5,246.9 707.5,247.7 708.5,248.6 709.5,249.4 710.5,250.2 711.5,251.1 712.5,251.9 713.5,252.8 714.5,253.6 715.5,254.5 716.5,255.3 717.5,256.2 718.5,257.0 719.5,257.9 720.5,258.7 721.5,259.6 722.5,260.4 723.5,261.3 724.5,262.1 725.5,263.0 726.5,263.8 727.5,264.7 728.5,265.5 729.5,266.4 730.5,267.2 731.5,268.1 732.5,268.9 733.5,269.7 734.5,270.6 735.5,271.4 736.5,272.2 737.5,273.1 738.5,273.9 739.5,274.7 740.5,275.6 741.5,276.4 742.5,277.3 743.5,278.1 744.5,278.9 745.5,279.8 746.5,280.7 747.5,281.5 748.5,282.4 749.5,283.3 750.5,284.1 751.5,285.0 752.5,285.9 753.5,286.8 754.5,287.7 755.5,288.6 756.5,289.5 757.5,290.4 758.5,291.3 759.5,292.2 760.5,293.1 761.5,294.0 762.5,294.9 763.5,295.8 764.5,296.7 765.5,297.7 766.5,298.6 767.5,299.5 768.5,300.4 769.5,301.4 770.5,302.3 771.5,303.3 772.5,304.2 773.5,305.2 774.5,306.1 775.5,307.1 776.5,308.0 777.5,309.0 778.5,310.0 779.5,310.9 780.5,311.9 781.5,312.9 782.5,313.9 783.5,314.8 784.5,315.8 785.5,316.8 786.5,317.8 787.5,318.8 788.5,319.8 789.5,320.8 790.5,321.8 791.5,322.8 792.5,323.8 793.5,324.8 794.5,325.9 795.5,326.9 796.5,327.9 797.5,328.9 798.5,330.0 799.5,331.0 800.5,332.0 801.5,333.0 802.5,334.1 803.5,335.1 804.5,336.2 805.5,337.2 806.5,338.2 807.5,339.3 808.5,340.3 809.5,341.4 810.5,342.4 811.5,343.5 812.5,344.5 813.5,345.6 814.5,346.6 815.5,347.7 816.5,348.7 817.5,349.8 818.5,350.8 819.5,351.9 820.5,353.0 821.5,354.0 822.5,355.1 823.5,356.1 824.5,357.2 825.5,358.3 826.5,359.3 827.5,360.4 828.5,361.4 829.5,362.5 830.5,363.6 831.5,364.6 832.5,365.7 833.5,366.7 834.5,367.8 835.5,368.9 836.5,369.9 837.5,371.0 838.5,372.0 839.5,373.1 840.5,374.2 841.5,375.2 842.5,376.3 843.5,377.3 844.5,378.4 845.5,379.4 846.5,380.5 847.5,381.5 848.5,382.6 849.5,383.6 850.5,384.7 851.5,385.7 852.5,386.8 853.5,387.8 854.5,388.8 855.5,389.9 856.5,390.9 857.5,392.0 858.5,393.0 859.5,394.0 860.5,395.0 861.5,396.1 862.5,397.1 863.5,398.1 864.5,399.1 865.5,400.2 866.5,401.2 867.5,402.2 868.5,403.2 869.5,404.2 870.5,405.2 871.5,406.2 872.5,407.2 873.5,408.2 874.5,409.2 875.5,410.2 876.5,411.1 877.5,412.1 878.5,413.1 879.5,414.0 880.5,415.0 881.5,416.0 882.5,416.9 883.5,417.8 884.5,418.8 885.5,419.7 886.5,420.6 887.5,421.5 888.5,422.4 889.5,423.2 890.5,424.1 891.5,424.9 892.5,425.8 893.5,426.6 894.5,427.4 895.5,428.2 896.5,429.0 897.5,429.8 898.5,430.5 899.5,431.3 900.5,432.0 901.5,432.7 902.5,433.4 903.5,434.0 904.5,434.7 905.5,435.3 906.5,435.9 907.5,436.5 908.5,437.1 909.5,437.7 910.5,438.2 911.5,438.7 912.5,439.2 913.5,439.7 914.5,440.2 915.5,440.6 916.5,441.0 917.5,441.5 918.5,441.9 919.5,442.3 920.5,442.6 921.5,443.0 922.5,443.3 923.5,443.7 924.5,444.0 925.5,444.3 926.5,444.6 927.5,444.9 928.5,445.2 929.5,445.5 930.5,445.8 931.5,446.0 932.5,446.3 933.5,446.5 934.5,446.8 935.5,447.0 936.5,447.2 937.5,447.5 938.5,447.7 939.5,447.9 940.5,448.1 941.5,448.3 942.5,448.6 942.5,464.6 941.5,464.7 940.5,464.7 939.5,464.7 938.5,464.8 937.5,464.8 936.5,464.9 935.5,464.9 934.5,465.0 933.5,465.0 932.5,465.1 931.5,465.1 930.5,465.2 929.5,465.2 928.5,465.2 927.5,465.3 926.5,465.3 925.5,465.4 924.5,465.4 923.5,465.5 922.5,465.5 921.5,465.6 920.5,465.6 919.5,465.7 918.5,465.7 917.5,465.8 916.5,465.8 915.5,465.8 914.5,465.9 913.5,465.9 912.5,466.0 911.5,466.0 910.5,466.0 909.5,466.1 908.5,466.1 907.5,466.1 906.5,466.2 905.5,466.2 904.5,466.2 903.5,466.2 902.5,466.3 901.5,466.3 900.5,466.3 899.5,466.3 898.5,466.3 897.5,466.4 896.5,466.4 895.5,466.4 894.5,466.4 893.5,466.4 892.5,466.4 891.5,466.4 890.5,466.4 889.5,466.4 888.5,466.4 887.5,466.3 886.5,466.3 885.5,466.3 884.5,466.3 883.5,466.3 882.5,466.2 881.5,466.2 880.5,466.2 879.5,466.1 878.5,466.1 877.5,466.0 876.5,466.0 875.5,465.9 874.5,465.9 873.5,465.8 872.5,465.7 871.5,465.7 870.5,465.6 869.5,465.5 868.5,465.4 867.5,465.3 866.5,465.2 865.5,465.1 864.5,465.0 863.5,464.9 862.5,464.8 861.5,464.7 860.5,464.6 859.5,464.5 858.5,464.3 857.5,464.2 856.5,464.0 855.5,463.9 854.5,463.7 853.5,463.6 852.5,463.4 851.5,463.3 850.5,463.1 849.5,462.9 848.5,462.7 847.5,462.5 846.5,462.3 845.5,462.2 844.5,462.0 843.5,461.8 842.5,461.5 841.5,461.3 840.5,461.1 839.5,460.9 838.5,460.7 837.5,460.5 836.5,460.2 835.5,460.0 834.5,459.8 833.5,459.5 832.5,459.3 831.5,459.0 830.5,458.8 829.5,458.5 828.5,458.3 827.5,458.0 826.5,457.8 825.5,457.5 824.5,457.2 823.5,457.0 822.5,456.7 821.5,456.4 820.5,456.2 819.5,455.9 818.5,455.6 817.5,455.3 816.5,455.1 815.5,454.8 814.5,454.5 813.5,454.2 812.5,453.9 811.5,453.6 810.5,453.4 809.5,453.1 808.5,452.8 807.5,452.5 806.5,452.2 805.5,451.9 804.5,451.6 803.5,451.3 802.5,451.0 801.5,450.7 800.5,450.5 799.5,450.2 798.5,449.9 797.5,449.6 796.5,449.3 795.5,449.0 794.5,448.7 793.5,448.4 792.5,448.1 791.5,447.8 790.5,447.5 789.5,447.2 788.5,447.0 787.5,446.7 786.5,446.4 785.5,446.1 784.5,445.8 783.5,445.5 782.5,445.3 781.5,445.0 780.5,444.7 779.5,444.4 778.5,444.1 777.5,443.9 776.5,443.6 775.5,443.3 774.5,443.1 773.5,442.8 772.5,442.5 771.5,442.3 770.5,442.0 769.5,441.8 768.5,441.5 767.5,441.3 766.5,441.0 765.5,440.8 764.5,440.5 763.5,440.3 762.5,440.1 761.5,439.8 760.5,439.6 759.5,439.3 758.5,439.1 757.5,438.9 756.5,438.6 755.5,438.4 754.5,438.2 753.5,437.9 752.5,437.7 751.5,437.5 750.5,437.2 749.5,437.0 748.5,436.7 747.5,436.5 746.5,436.3 745.5,436.0 744.5,435.8 743.5,435.5 742.5,435.3 741.5,435.0 740.5,434.8 739.5,434.5 738.5,434.3 737.5,434.0 736.5,433.8 735.5,433.5 734.5,433.3 733.5,433.0 732.5,432.8 731.5,432.5 730.5,432.2 729.5,432.0 728.5,431.7 727.5,431.4 726.5,431.2 725.5,430.9 724.5,430.6 723.5,430.3 722.5,430.1 721.5,429.8 720.5,429.5 719.5,429.2 718.5,428.9 717.5,428.6 716.5,428.3 715.5,427.9 714.5,427.6 713.5,427.3 712.5,427.0 711.5,426.6 710.5,426.3 709.5,425.9 708.5,425.6 707.5,425.2 706.5,424.8 705.5,424.5 704.5,424.1 703.5,423.7 702.5,423.3 701.5,422.8 700.5,422.4 699.5,422.0 698.5,421.5 697.5,421.1 696.5,420.6 695.5,420.1 694.5,419.6 693.5,419.2 692.5,418.7 691.5,418.2 690.5,417.7 689.5,417.1 688.5,416.6 687.5,416.1 686.5,415.6 685.5,415.0 684.5,414.5 683.5,414.0 682.5,413.4 681.5,412.9 680.5,412.3 679.5,411.8 678.5,411.2 677.5,410.7 676.5,410.1 675.5,409.6 674.5,409.0 673.5,408.4 672.5,407.9 671.5,407.3 670.5,406.8 669.5,406.2 668.5,405.7 667.5,405.1 666.5,404.6 665.5,404.0 664.5,403.5 663.5,402.9 662.5,402.4 661.5,401.9 660.5,401.3 659.5,400.8 658.5,400.2 657.5,399.7 656.5,399.1 655.5,398.6 654.5,398.1 653.5,397.5 652.5,397.0 651.5,396.4 650.5,395.9 649.5,395.4 648.5,394.8 647.5,394.3 646.5,393.7 645.5,393.2 644.5,392.7 643.5,392.1 642.5,391.6 641.5,391.1 640.5,390.5 639.5,390.0 638.5,389.5 637.5,389.0 636.5,388.4 635.5,387.9 634.5,387.4 633.5,386.9 632.5,386.4 631.5,385.9 630.5,385.4 629.5,384.9 628.5,384.4 627.5,383.9 626.5,383.4 625.5,382.9 624.5,382.4 623.5,381.9 622.5,381.4 621.5,381.0 620.5,380.5 619.5,380.0 618.5,379.6 617.5,379.1 616.5,378.7 615.5,378.2 614.5,377.8 613.5,377.3 612.5,376.9 611.5,376.5 610.5,376.1 609.5,375.6 608.5,375.2 607.5,374.8 606.5,374.4 605.5,374.0 604.5,373.7 603.5,373.3 602.5,372.9 601.5,372.6 600.5,372.2 599.5,371.8 598.5,371.5 597.5,371.2 596.5,370.8 595.5,370.5 594.5,370.2 593.5,369.9 592.5,369.6 591.5,369.3 590.5,369.0 589.5,368.7 588.5,368.5 587.5,368.2 586.5,368.0 585.5,367.7 584.5,367.5 583.5,367.3 582.5,367.1 581.5,366.9 580.5,366.7 579.5,366.5 578.5,366.3 577.5,366.1 576.5,366.0 575.5,365.8 574.5,365.7 573.5,365.5 572.5,365.4 571.5,365.3 570.5,365.2 569.5,365.1 568.5,365.0 567.5,364.9 566.5,364.9 565.5,364.8 564.5,364.7 563.5,364.7 562.5,364.6 561.5,364.6 560.5,364.5 559.5,364.5 558.5,364.5 557.5,364.5 556.5,364.5 555.5,364.5 554.5,364.5 553.5,364.5 552.5,364.5 551.5,364.5 550.5,364.5 549.5,364.5 548.5,364.6 547.5,364.6 546.5,364.6 545.5,364.7 544.5,364.7 543.5,364.8 542.5,364.8 541.5,364.9 540.5,365.0 539.5,365.0 538.5,365.1 537.5,365.2 536.5,365.2 535.5,365.3 534.5,365.4 533.5,365.5 532.5,365.5 531.5,365.6 530.5,365.7 529.5,365.8 528.5,365.9 527.5,366.0 526.5,366.1 525.5,366.1 524.5,366.2 523.5,366.3 522.5,366.4 521.5,366.5 520.5,366.6 519.5,366.7 518.5,366.8 517.5,366.9 516.5,367.0 515.5,367.1 514.5,367.1 513.5,367.2 512.5,367.3 511.5,367.4 510.5,367.5 509.5,367.6 508.5,367.6 507.5,367.7 506.5,367.8 505.5,367.9 504.5,367.9 503.5,368.0 502.5,368.0 501.5,368.1 500.5,368.2 499.5,368.2 498.5,368.3 497.5,368.3 496.5,368.4 495.5,368.4 494.5,368.4 493.5,368.4 492.5,368.5 491.5,368.5 490.5,368.5 489.5,368.5 488.5,368.5 487.5,368.5 486.5,368.5 485.5,368.5 484.5,368.5 483.5,368.5 482.5,368.4 481.5,368.4 480.5,368.4 479.5,368.4 478.5,368.3 477.5,368.3 476.5,368.2 475.5,368.2 474.5,368.2 473.5,368.1 472.5,368.1 471.5,368.0 470.5,368.0 469.5,367.9 468.5,367.9 467.5,367.8 466.5,367.8 465.5,367.7 464.5,367.7 463.5,367.6 462.5,367.6 461.5,367.5 460.5,367.5 459.5,367.5 458.5,367.4 457.5,367.4 456.5,367.3 455.5,367.3 454.5,367.3 453.5,367.2 452.5,367.2 451.5,367.2 450.5,367.2 449.5,367.2 448.5,367.2 447.5,367.2 446.5,367.2 445.5,367.2 444.5,367.2 443.5,367.2 442.5,367.2 441.5,367.2 440.5,367.3 439.5,367.3 438.5,367.4 437.5,367.4 436.5,367.5 435.5,367.6 434.5,367.6 433.5,367.7 432.5,367.8 431.5,367.9 430.5,368.0 429.5,368.1 428.5,368.2 427.5,368.3 426.5,368.5 425.5,368.6 424.5,368.8 423.5,368.9 422.5,369.1 421.5,369.2 420.5,369.4 419.5,369.6 418.5,369.8 417.5,370.0 416.5,370.2 415.5,370.4 414.5,370.6 413.5,370.8 412.5,371.1 411.5,371.3 410.5,371.6 409.5,371.8 408.5,372.1 407.5,372.3 406.5,372.6 405.5,372.9 404.5,373.2 403.5,373.5 402.5,373.8 401.5,374.1 400.5,374.4 399.5,374.8 398.5,375.1 397.5,375.4 396.5,375.8 395.5,376.2 394.5,376.5 393.5,376.9 392.5,377.3 391.5,377.7 390.5,378.1 389.5,378.5 388.5,378.9 387.5,379.3 386.5,379.7 385.5,380.2 384.5,380.6 383.5,381.0 382.5,381.5 381.5,382.0 380.5,382.4 379.5,382.9 378.5,383.4 377.5,383.9 376.5,384.4 375.5,384.9 374.5,385.4 373.5,385.9 372.5,386.4 371.5,386.9 370.5,387.5 369.5,388.0 368.5,388.5 367.5,389.1 366.5,389.6 365.5,390.2 364.5,390.7 363.5,391.3 362.5,391.8 361.5,392.4 360.5,393.0 359.5,393.5 358.5,394.1 357.5,394.7 356.5,395.3 355.5,395.8 354.5,396.4 353.5,397.0 352.5,397.6 351.5,398.2 350.5,398.8 349.5,399.4 348.5,400.0 347.5,400.6 346.5,401.2 345.5,401.8 344.5,402.4 343.5,403.0 342.5,403.6 341.5,404.2 340.5,404.8 339.5,405.4 338.5,406.0 337.5,406.6 336.5,407.2 335.5,407.8 334.5,408.4 333.5,409.0 332.5,409.6 331.5,410.2 330.5,410.8 329.5,411.4 328.5,412.0 327.5,412.6 326.5,413.2 325.5,413.8 324.5,414.4 323.5,415.0 322.5,415.6 321.5,416.2 320.5,416.8 319.5,417.4 318.5,418.0 317.5,418.6 316.5,419.2 315.5,419.7 314.5,420.3 313.5,420.9 312.5,421.5 311.5,422.1 310.5,422.6 309.5,423.2 308.5,423.8 307.5,424.3 306.5,424.9 305.5,425.5 304.5,426.0 303.5,426.6 302.5,427.1 301.5,427.7 300.5,428.2 299.5,428.8 298.5,429.3 297.5,429.8 296.5,430.4 295.5,430.9 294.5,431.4 293.5,431.9 292.5,432.5 291.5,433.0 290.5,433.5 289.5,434.0 288.5,434.5 287.5,435.0 286.5,435.4 285.5,435.9 284.5,436.4 283.5,436.9 282.5,437.4 281.5,437.8 280.5,438.3 279.5,438.7 278.5,439.2 277.5,439.6 276.5,440.1 275.5,440.5 274.5,440.9 273.5,441.4 272.5,441.8 271.5,442.2 270.5,442.6 269.5,443.1 268.5,443.5 267.5,443.9 266.5,444.3 265.5,444.7 264.5,445.1 263.5,445.4 262.5,445.8 261.5,446.2 260.5,446.6 259.5,446.9 258.5,447.3 257.5,447.7 256.5,448.0 255.5,448.4 254.5,448.7 253.5,449.1 252.5,449.4 251.5,449.7 250.5,450.1 249.5,450.4 248.5,450.7 247.5,451.0 246.5,451.4 245.5,451.7 244.5,452.0 243.5,452.3 242.5,452.6 241.5,452.9 240.5,453.2 239.5,453.4 238.5,453.7 237.5,454.0 236.5,454.3 235.5,454.6 234.5,454.8 233.5,455.1 232.5,455.3 231.5,455.6 230.5,455.8 229.5,456.1 228.5,456.3 227.5,456.6 226.5,456.8 225.5,457.0 224.5,457.3 223.5,457.5 222.5,457.7 221.5,457.9 220.5,458.1 219.5,458.3 218.5,458.5 217.5,458.7 216.5,458.9 215.5,459.1 214.5,459.3 213.5,459.5 212.5,459.7 211.5,459.9 210.5,460.0 209.5,460.2 208.5,460.4 207.5,460.5 206.5,460.7 205.5,460.9 204.5,461.0 203.5,461.1 202.5,461.3 201.5,461.4 200.5,461.6 199.5,461.7 198.5,461.8 197.5,462.0 196.5,462.1 195.5,462.2 194.5,462.3 193.5,462.4 192.5,462.5 191.5,462.6 190.5,462.7 189.5,462.8 188.5,462.9 187.5,463.0 186.5,463.1 185.5,463.2 184.5,463.3 183.5,463.4 182.5,463.4 181.5,463.5 180.5,463.6 179.5,463.7 178.5,463.7 177.5,463.8 176.5,463.9 175.5,463.9 174.5,464.0 173.5,464.0 172.5,464.1 171.5,464.1 170.5,464.2 169.5,464.2 168.5,464.3 167.5,464.3 166.5,464.3 165.5,464.4 164.5,464.4 163.5,464.5 162.5,464.5 161.5,464.5 160.5,464.5 159.5,464.6 158.5,464.6 157.5,464.6 156.5,464.6 155.5,464.7 154.5,464.7 153.5,464.7 152.5,464.7 151.5,464.7 150.5,464.8 149.5,464.8 148.5,464.8 147.5,464.8 146.5,464.8 145.5,464.8 144.5,464.8 143.5,464.8 142.5,464.8 141.5,464.8 140.5,464.8 139.5,464.9 138.5,464.9 137.5,464.9 136.5,464.9 135.5,464.9 134.5,464.9 133.5,464.9 132.5,464.9 131.5,464.9 130.5,464.9 129.5,464.9 128.5,464.9 127.5,464.9 126.5,464.9 125.5,464.9 124.5,464.9 123.5,464.9 122.5,464.9 121.5,464.9 120.5,464.9 119.5,464.9 118.5,464.9 117.5,464.9 116.5,464.9 115.5,464.9 114.5,464.9 113.5,464.9 112.5,464.9 111.5,465.0 110.5,465.0 109.5,465.0 108.5,465.0 107.5,465.0 106.5,465.0"/>
<line x1="106.7" y1="418.4" x2="942.5" y2="418.4" stroke="#000" stroke-opacity="0.37" stroke-width="1"/>
<polyline fill="none" stroke="#000" stroke-width="1.35" stroke-linejoin="round" points="106.5,456.2 107.5,456.4 108.5,456.5 109.5,456.6 110.5,456.7 111.5,456.9 112.5,457.0 113.5,457.1 114.5,457.2 115.5,457.3 116.5,457.4 117.5,457.5 118.5,457.6 119.5,457.7 120.5,457.8 121.5,457.9 122.5,458.0 123.5,458.0 124.5,458.1 125.5,458.2 126.5,458.3 127.5,458.3 128.5,458.4 129.5,458.5 130.5,458.5 131.5,458.6 132.5,458.6 133.5,458.7 134.5,458.7 135.5,458.8 136.5,458.8 137.5,458.9 138.5,458.9 139.5,458.9 140.5,459.0 141.5,459.0 142.5,459.0 143.5,459.1 144.5,459.1 145.5,459.1 146.5,459.1 147.5,459.1 148.5,459.1 149.5,459.1 150.5,459.1 151.5,459.1 152.5,459.1 153.5,459.1 154.5,459.1 155.5,459.1 156.5,459.1 157.5,459.1 158.5,459.1 159.5,459.1 160.5,459.0 161.5,459.0 162.5,459.0 163.5,458.9 164.5,458.9 165.5,458.9 166.5,458.8 167.5,458.8 168.5,458.7 169.5,458.7 170.5,458.6 171.5,458.6 172.5,458.5 173.5,458.5 174.5,458.4 175.5,458.3 176.5,458.3 177.5,458.2 178.5,458.1 179.5,458.0 180.5,458.0 181.5,457.9 182.5,457.8 183.5,457.7 184.5,457.6 185.5,457.5 186.5,457.4 187.5,457.3 188.5,457.2 189.5,457.1 190.5,457.0 191.5,456.9 192.5,456.8 193.5,456.7 194.5,456.6 195.5,456.5 196.5,456.3 197.5,456.2 198.5,456.1 199.5,456.0 200.5,455.8 201.5,455.7 202.5,455.5 203.5,455.4 204.5,455.3 205.5,455.1 206.5,455.0 207.5,454.8 208.5,454.7 209.5,454.5 210.5,454.3 211.5,454.2 212.5,454.0 213.5,453.8 214.5,453.6 215.5,453.5 216.5,453.3 217.5,453.1 218.5,452.9 219.5,452.7 220.5,452.5 221.5,452.3 222.5,452.1 223.5,451.9 224.5,451.7 225.5,451.5 226.5,451.2 227.5,451.0 228.5,450.8 229.5,450.5 230.5,450.3 231.5,450.1 232.5,449.8 233.5,449.6 234.5,449.3 235.5,449.0 236.5,448.8 237.5,448.5 238.5,448.2 239.5,447.9 240.5,447.6 241.5,447.3 242.5,447.0 243.5,446.7 244.5,446.4 245.5,446.1 246.5,445.8 247.5,445.5 248.5,445.1 249.5,444.8 250.5,444.5 251.5,444.1 252.5,443.8 253.5,443.4 254.5,443.0 255.5,442.7 256.5,442.3 257.5,441.9 258.5,441.5 259.5,441.1 260.5,440.7 261.5,440.3 262.5,439.9 263.5,439.4 264.5,439.0 265.5,438.6 266.5,438.1 267.5,437.7 268.5,437.2 269.5,436.8 270.5,436.3 271.5,435.8 272.5,435.3 273.5,434.9 274.5,434.4 275.5,433.9 276.5,433.4 277.5,432.8 278.5,432.3 279.5,431.8 280.5,431.3 281.5,430.8 282.5,430.2 283.5,429.7 284.5,429.1 285.5,428.6 286.5,428.0 287.5,427.4 288.5,426.9 289.5,426.3 290.5,425.7 291.5,425.1 292.5,424.6 293.5,424.0 294.5,423.4 295.5,422.8 296.5,422.2 297.5,421.6 298.5,420.9 299.5,420.3 300.5,419.7 301.5,419.1 302.5,418.5 303.5,417.8 304.5,417.2 305.5,416.6 306.5,415.9 307.5,415.3 308.5,414.6 309.5,414.0 310.5,413.3 311.5,412.7 312.5,412.0 313.5,411.3 314.5,410.7 315.5,410.0 316.5,409.3 317.5,408.7 318.5,408.0 319.5,407.3 320.5,406.6 321.5,406.0 322.5,405.3 323.5,404.6 324.5,403.9 325.5,403.2 326.5,402.5 327.5,401.8 328.5,401.2 329.5,400.5 330.5,399.8 331.5,399.1 332.5,398.4 333.5,397.7 334.5,397.0 335.5,396.3 336.5,395.6 337.5,394.9 338.5,394.2 339.5,393.5 340.5,392.8 341.5,392.1 342.5,391.3 343.5,390.6 344.5,389.9 345.5,389.2 346.5,388.5 347.5,387.8 348.5,387.1 349.5,386.4 350.5,385.7 351.5,385.0 352.5,384.3 353.5,383.6 354.5,382.9 355.5,382.2 356.5,381.5 357.5,380.8 358.5,380.1 359.5,379.4 360.5,378.7 361.5,378.0 362.5,377.3 363.5,376.6 364.5,375.9 365.5,375.2 366.5,374.6 367.5,373.9 368.5,373.2 369.5,372.5 370.5,371.8 371.5,371.1 372.5,370.5 373.5,369.8 374.5,369.1 375.5,368.5 376.5,367.8 377.5,367.1 378.5,366.5 379.5,365.8 380.5,365.2 381.5,364.5 382.5,363.9 383.5,363.2 384.5,362.6 385.5,361.9 386.5,361.3 387.5,360.7 388.5,360.0 389.5,359.4 390.5,358.8 391.5,358.2 392.5,357.5 393.5,356.9 394.5,356.3 395.5,355.7 396.5,355.1 397.5,354.5 398.5,353.9 399.5,353.4 400.5,352.8 401.5,352.2 402.5,351.6 403.5,351.1 404.5,350.5 405.5,350.0 406.5,349.4 407.5,348.9 408.5,348.4 409.5,347.8 410.5,347.3 411.5,346.8 412.5,346.3 413.5,345.8 414.5,345.3 415.5,344.8 416.5,344.3 417.5,343.9 418.5,343.4 419.5,342.9 420.5,342.5 421.5,342.1 422.5,341.6 423.5,341.2 424.5,340.8 425.5,340.3 426.5,339.9 427.5,339.5 428.5,339.1 429.5,338.7 430.5,338.3 431.5,338.0 432.5,337.6 433.5,337.2 434.5,336.8 435.5,336.5 436.5,336.1 437.5,335.8 438.5,335.4 439.5,335.1 440.5,334.7 441.5,334.4 442.5,334.1 443.5,333.7 444.5,333.4 445.5,333.1 446.5,332.8 447.5,332.5 448.5,332.2 449.5,331.9 450.5,331.6 451.5,331.3 452.5,331.0 453.5,330.8 454.5,330.5 455.5,330.2 456.5,329.9 457.5,329.7 458.5,329.4 459.5,329.1 460.5,328.9 461.5,328.6 462.5,328.4 463.5,328.1 464.5,327.8 465.5,327.5 466.5,327.3 467.5,327.0 468.5,326.7 469.5,326.4 470.5,326.1 471.5,325.8 472.5,325.5 473.5,325.2 474.5,324.9 475.5,324.6 476.5,324.3 477.5,324.0 478.5,323.7 479.5,323.4 480.5,323.1 481.5,322.7 482.5,322.4 483.5,322.1 484.5,321.7 485.5,321.4 486.5,321.1 487.5,320.7 488.5,320.4 489.5,320.1 490.5,319.7 491.5,319.4 492.5,319.0 493.5,318.7 494.5,318.3 495.5,318.0 496.5,317.6 497.5,317.3 498.5,316.9 499.5,316.5 500.5,316.1 501.5,315.7 502.5,315.4 503.5,315.0 504.5,314.6 505.5,314.1 506.5,313.7 507.5,313.3 508.5,312.9 509.5,312.5 510.5,312.0 511.5,311.6 512.5,311.2 513.5,310.7 514.5,310.3 515.5,309.8 516.5,309.4 517.5,308.9 518.5,308.4 519.5,308.0 520.5,307.5 521.5,307.0 522.5,306.6 523.5,306.1 524.5,305.6 525.5,305.2 526.5,304.7 527.5,304.3 528.5,303.8 529.5,303.3 530.5,302.9 531.5,302.4 532.5,302.0 533.5,301.5 534.5,301.1 535.5,300.6 536.5,300.2 537.5,299.7 538.5,299.3 539.5,298.8 540.5,298.4 541.5,297.9 542.5,297.5 543.5,297.0 544.5,296.6 545.5,296.2 546.5,295.7 547.5,295.3 548.5,294.9 549.5,294.5 550.5,294.1 551.5,293.6 552.5,293.2 553.5,292.8 554.5,292.4 555.5,292.0 556.5,291.6 557.5,291.3 558.5,290.9 559.5,290.5 560.5,290.1 561.5,289.7 562.5,289.4 563.5,289.0 564.5,288.7 565.5,288.3 566.5,288.0 567.5,287.6 568.5,287.3 569.5,287.0 570.5,286.7 571.5,286.4 572.5,286.1 573.5,285.8 574.5,285.6 575.5,285.3 576.5,285.1 577.5,284.8 578.5,284.6 579.5,284.4 580.5,284.2 581.5,284.0 582.5,283.8 583.5,283.7 584.5,283.5 585.5,283.4 586.5,283.2 587.5,283.1 588.5,283.0 589.5,282.9 590.5,282.9 591.5,282.8 592.5,282.7 593.5,282.7 594.5,282.7 595.5,282.7 596.5,282.7 597.5,282.7 598.5,282.7 599.5,282.7 600.5,282.8 601.5,282.9 602.5,283.0 603.5,283.1 604.5,283.2 605.5,283.3 606.5,283.5 607.5,283.7 608.5,283.8 609.5,284.0 610.5,284.3 611.5,284.5 612.5,284.8 613.5,285.0 614.5,285.3 615.5,285.6 616.5,285.9 617.5,286.2 618.5,286.5 619.5,286.9 620.5,287.2 621.5,287.6 622.5,287.9 623.5,288.3 624.5,288.7 625.5,289.1 626.5,289.4 627.5,289.9 628.5,290.3 629.5,290.7 630.5,291.1 631.5,291.5 632.5,292.0 633.5,292.4 634.5,292.9 635.5,293.4 636.5,293.8 637.5,294.3 638.5,294.8 639.5,295.3 640.5,295.8 641.5,296.3 642.5,296.8 643.5,297.4 644.5,297.9 645.5,298.5 646.5,299.0 647.5,299.6 648.5,300.1 649.5,300.7 650.5,301.3 651.5,301.9 652.5,302.4 653.5,303.0 654.5,303.6 655.5,304.2 656.5,304.9 657.5,305.5 658.5,306.1 659.5,306.7 660.5,307.3 661.5,308.0 662.5,308.6 663.5,309.2 664.5,309.9 665.5,310.5 666.5,311.2 667.5,311.8 668.5,312.5 669.5,313.1 670.5,313.8 671.5,314.4 672.5,315.1 673.5,315.7 674.5,316.4 675.5,317.0 676.5,317.7 677.5,318.3 678.5,319.0 679.5,319.6 680.5,320.3 681.5,320.9 682.5,321.6 683.5,322.2 684.5,322.9 685.5,323.5 686.5,324.1 687.5,324.8 688.5,325.4 689.5,326.0 690.5,326.6 691.5,327.3 692.5,327.9 693.5,328.5 694.5,329.1 695.5,329.7 696.5,330.2 697.5,330.8 698.5,331.4 699.5,332.0 700.5,332.5 701.5,333.1 702.5,333.6 703.5,334.2 704.5,334.7 705.5,335.3 706.5,335.8 707.5,336.4 708.5,336.9 709.5,337.5 710.5,338.0 711.5,338.6 712.5,339.1 713.5,339.7 714.5,340.2 715.5,340.8 716.5,341.3 717.5,341.8 718.5,342.4 719.5,342.9 720.5,343.5 721.5,344.0 722.5,344.6 723.5,345.1 724.5,345.6 725.5,346.2 726.5,346.7 727.5,347.2 728.5,347.8 729.5,348.3 730.5,348.8 731.5,349.4 732.5,349.9 733.5,350.4 734.5,351.0 735.5,351.5 736.5,352.0 737.5,352.6 738.5,353.1 739.5,353.7 740.5,354.2 741.5,354.7 742.5,355.3 743.5,355.8 744.5,356.4 745.5,356.9 746.5,357.5 747.5,358.0 748.5,358.6 749.5,359.2 750.5,359.7 751.5,360.3 752.5,360.8 753.5,361.4 754.5,361.9 755.5,362.5 756.5,363.1 757.5,363.6 758.5,364.2 759.5,364.7 760.5,365.3 761.5,365.8 762.5,366.4 763.5,367.0 764.5,367.5 765.5,368.1 766.5,368.7 767.5,369.2 768.5,369.8 769.5,370.4 770.5,371.0 771.5,371.6 772.5,372.2 773.5,372.8 774.5,373.4 775.5,374.0 776.5,374.6 777.5,375.3 778.5,375.9 779.5,376.6 780.5,377.2 781.5,377.9 782.5,378.5 783.5,379.2 784.5,379.9 785.5,380.5 786.5,381.2 787.5,381.9 788.5,382.6 789.5,383.2 790.5,383.9 791.5,384.6 792.5,385.3 793.5,386.0 794.5,386.7 795.5,387.3 796.5,388.0 797.5,388.7 798.5,389.4 799.5,390.1 800.5,390.8 801.5,391.5 802.5,392.2 803.5,392.9 804.5,393.6 805.5,394.3 806.5,395.0 807.5,395.7 808.5,396.4 809.5,397.1 810.5,397.8 811.5,398.5 812.5,399.2 813.5,399.9 814.5,400.6 815.5,401.3 816.5,402.0 817.5,402.7 818.5,403.4 819.5,404.1 820.5,404.8 821.5,405.5 822.5,406.2 823.5,406.9 824.5,407.6 825.5,408.3 826.5,409.0 827.5,409.7 828.5,410.4 829.5,411.1 830.5,411.8 831.5,412.5 832.5,413.2 833.5,413.9 834.5,414.6 835.5,415.3 836.5,415.9 837.5,416.6 838.5,417.3 839.5,418.0 840.5,418.6 841.5,419.3 842.5,420.0 843.5,420.6 844.5,421.3 845.5,421.9 846.5,422.6 847.5,423.2 848.5,423.8 849.5,424.5 850.5,425.1 851.5,425.7 852.5,426.3 853.5,427.0 854.5,427.6 855.5,428.2 856.5,428.8 857.5,429.4 858.5,429.9 859.5,430.5 860.5,431.1 861.5,431.7 862.5,432.2 863.5,432.8 864.5,433.4 865.5,433.9 866.5,434.4 867.5,435.0 868.5,435.5 869.5,436.0 870.5,436.5 871.5,437.0 872.5,437.5 873.5,438.0 874.5,438.5 875.5,439.0 876.5,439.5 877.5,439.9 878.5,440.4 879.5,440.9 880.5,441.3 881.5,441.7 882.5,442.2 883.5,442.6 884.5,443.0 885.5,443.4 886.5,443.8 887.5,444.2 888.5,444.6 889.5,445.0 890.5,445.4 891.5,445.8 892.5,446.1 893.5,446.5 894.5,446.9 895.5,447.2 896.5,447.5 897.5,447.9 898.5,448.2 899.5,448.5 900.5,448.8 901.5,449.1 902.5,449.4 903.5,449.7 904.5,450.0 905.5,450.3 906.5,450.6 907.5,450.8 908.5,451.1 909.5,451.4 910.5,451.6 911.5,451.8 912.5,452.1 913.5,452.3 914.5,452.5 915.5,452.7 916.5,453.0 917.5,453.2 918.5,453.3 919.5,453.5 920.5,453.7 921.5,453.9 922.5,454.1 923.5,454.2 924.5,454.4 925.5,454.5 926.5,454.7 927.5,454.8 928.5,454.9 929.5,455.1 930.5,455.2 931.5,455.3 932.5,455.4 933.5,455.5 934.5,455.6 935.5,455.7 936.5,455.8 937.5,455.8 938.5,455.9 939.5,456.0 940.5,456.0 941.5,456.1 942.5,456.1"/>
<polyline fill="none" stroke="#0000ff" stroke-width="1.7" stroke-linejoin="round" stroke-linecap="round" points="106.9,469.6 110.0,468.7 113.2,469.9 116.3,468.1 118.8,467.5 122.6,467.1 125.8,464.2 128.3,464.0 130.8,465.5 133.3,468.4 135.8,467.7 137.7,469.6 141.5,468.1 144.0,466.5 146.5,464.2 148.4,465.2 151.5,464.0 153.4,464.2 155.3,462.5 157.8,463.3 162.2,463.0 164.1,460.2 167.2,460.8 169.7,464.6 172.9,463.3 176.0,462.7 180.4,463.7 183.5,463.1 185.4,464.6 187.9,462.7 189.8,461.7 191.7,462.7 193.6,460.5 194.8,462.5 197.4,461.5 200.5,459.2 203.0,456.4 205.5,454.2 208.0,454.5 211.2,453.0 213.7,454.2 216.8,454.5 218.8,453.8 222.5,451.3 227.6,451.8 231.3,455.1 235.1,454.0 238.2,453.0 240.8,454.3 243.9,451.5 247.7,447.8 250.8,444.0 253.3,445.5 257.7,445.9 260.9,443.4 262.7,442.1 264.2,444.6 265.9,441.7 269.6,440.2 272.2,443.0 276.6,439.6 280.3,436.2 283.5,437.1 285.4,438.3 288.5,435.8 289.7,436.5 293.5,431.4 296.7,429.5 299.2,426.4 301.7,421.4 304.8,421.1 308.0,422.4 310.5,425.2 313.6,423.3 315.5,420.8 317.4,421.4 319.9,418.2 322.4,414.5 323.7,415.1 326.2,411.3 329.3,407.6 332.5,408.8 334.4,409.1 339.4,401.6 345.1,401.3 348.9,398.4 351.1,394.6 353.3,395.9 355.8,392.8 358.9,386.5 362.7,380.8 365.8,380.2 370.9,373.3 375.3,370.8 379.6,363.9 383.4,361.4 385.3,358.8 387.8,360.1 391.0,359.8 392.8,358.2 393.8,361.1 396.0,359.1 398.5,359.8 400.4,358.2"/>
<polyline fill="none" stroke="#ff0000" stroke-width="1.8" stroke-linejoin="round" stroke-linecap="round" points="400.5,358.2 401.4,330.8 403.3,329.6 404.2,325.2 406.4,312.6 408.6,302.5 410.8,304.1 414.0,303.8 416.3,300.3 419.3,297.3 421.7,296.6 423.5,299.7 425.0,300.5 427.1,298.2 429.0,291.9 430.8,282.5 432.4,270.9 433.4,265.2 435.0,263.4 436.5,264.7 438.1,269.4 438.6,270.4"/>
<g stroke="#4c4c4c" stroke-width="1.5" fill="none">
<rect x="106.7" y="86.8" width="835.8" height="478.2"/>
</g>
<path d="M106.70 565.1V581.6M106.70 86.8V70.3M175.30 565.1V581.6M175.30 86.8V70.3M246.18 565.1V581.6M246.18 86.8V70.3M317.07 565.1V581.6M317.07 86.8V70.3M385.67 565.1V581.6M385.67 86.8V70.3M456.55 565.1V581.6M456.55 86.8V70.3M525.15 565.1V581.6M525.15 86.8V70.3M596.03 565.1V581.6M596.03 86.8V70.3M666.92 565.1V581.6M666.92 86.8V70.3M733.23 565.1V581.6M733.23 86.8V70.3M804.11 565.1V581.6M804.11 86.8V70.3M872.71 565.1V581.6M872.71 86.8V70.3M106.7 565.10H90.2M942.5 565.10H959.0M106.7 491.52H90.2M942.5 491.52H959.0M106.7 417.95H90.2M942.5 417.95H959.0M106.7 344.37H90.2M942.5 344.37H959.0M106.7 270.79H90.2M942.5 270.79H959.0M106.7 197.22H90.2M942.5 197.22H959.0M106.7 123.64H90.2M942.5 123.64H959.0" stroke="#383838" stroke-width="1.2" fill="none"/>
<path d="M106.70 565.1V573.6M106.70 86.8V78.3M111.27 565.1V573.6M111.27 86.8V78.3M115.85 565.1V573.6M115.85 86.8V78.3M120.42 565.1V573.6M120.42 86.8V78.3M124.99 565.1V573.6M124.99 86.8V78.3M129.57 565.1V573.6M129.57 86.8V78.3M134.14 565.1V573.6M134.14 86.8V78.3M138.71 565.1V573.6M138.71 86.8V78.3M143.29 565.1V573.6M143.29 86.8V78.3M147.86 565.1V573.6M147.86 86.8V78.3M152.43 565.1V573.6M152.43 86.8V78.3M157.01 565.1V573.6M157.01 86.8V78.3M161.58 565.1V573.6M161.58 86.8V78.3M166.15 565.1V573.6M166.15 86.8V78.3M170.72 565.1V573.6M170.72 86.8V78.3M175.30 565.1V573.6M175.30 86.8V78.3M179.87 565.1V573.6M179.87 86.8V78.3M184.44 565.1V573.6M184.44 86.8V78.3M189.02 565.1V573.6M189.02 86.8V78.3M193.59 565.1V573.6M193.59 86.8V78.3M198.16 565.1V573.6M198.16 86.8V78.3M202.74 565.1V573.6M202.74 86.8V78.3M207.31 565.1V573.6M207.31 86.8V78.3M211.88 565.1V573.6M211.88 86.8V78.3M216.46 565.1V573.6M216.46 86.8V78.3M221.03 565.1V573.6M221.03 86.8V78.3M225.60 565.1V573.6M225.60 86.8V78.3M230.18 565.1V573.6M230.18 86.8V78.3M234.75 565.1V573.6M234.75 86.8V78.3M239.32 565.1V573.6M239.32 86.8V78.3M243.90 565.1V573.6M243.90 86.8V78.3M248.47 565.1V573.6M248.47 86.8V78.3M253.04 565.1V573.6M253.04 86.8V78.3M257.62 565.1V573.6M257.62 86.8V78.3M262.19 565.1V573.6M262.19 86.8V78.3M266.76 565.1V573.6M266.76 86.8V78.3M271.34 565.1V573.6M271.34 86.8V78.3M275.91 565.1V573.6M275.91 86.8V78.3M280.48 565.1V573.6M280.48 86.8V78.3M285.05 565.1V573.6M285.05 86.8V78.3M289.63 565.1V573.6M289.63 86.8V78.3M294.20 565.1V573.6M294.20 86.8V78.3M298.77 565.1V573.6M298.77 86.8V78.3M303.35 565.1V573.6M303.35 86.8V78.3M307.92 565.1V573.6M307.92 86.8V78.3M312.49 565.1V573.6M312.49 86.8V78.3M317.07 565.1V573.6M317.07 86.8V78.3M321.64 565.1V573.6M321.64 86.8V78.3M326.21 565.1V573.6M326.21 86.8V78.3M330.79 565.1V573.6M330.79 86.8V78.3M335.36 565.1V573.6M335.36 86.8V78.3M339.93 565.1V573.6M339.93 86.8V78.3M344.51 565.1V573.6M344.51 86.8V78.3M349.08 565.1V573.6M349.08 86.8V78.3M353.65 565.1V573.6M353.65 86.8V78.3M358.23 565.1V573.6M358.23 86.8V78.3M362.80 565.1V573.6M362.80 86.8V78.3M367.37 565.1V573.6M367.37 86.8V78.3M371.95 565.1V573.6M371.95 86.8V78.3M376.52 565.1V573.6M376.52 86.8V78.3M381.09 565.1V573.6M381.09 86.8V78.3M385.67 565.1V573.6M385.67 86.8V78.3M390.24 565.1V573.6M390.24 86.8V78.3M394.81 565.1V573.6M394.81 86.8V78.3M399.38 565.1V573.6M399.38 86.8V78.3M403.96 565.1V573.6M403.96 86.8V78.3M408.53 565.1V573.6M408.53 86.8V78.3M413.10 565.1V573.6M413.10 86.8V78.3M417.68 565.1V573.6M417.68 86.8V78.3M422.25 565.1V573.6M422.25 86.8V78.3M426.82 565.1V573.6M426.82 86.8V78.3M431.40 565.1V573.6M431.40 86.8V78.3M435.97 565.1V573.6M435.97 86.8V78.3M440.54 565.1V573.6M440.54 86.8V78.3M445.12 565.1V573.6M445.12 86.8V78.3M449.69 565.1V573.6M449.69 86.8V78.3M454.26 565.1V573.6M454.26 86.8V78.3M458.84 565.1V573.6M458.84 86.8V78.3M463.41 565.1V573.6M463.41 86.8V78.3M467.98 565.1V573.6M467.98 86.8V78.3M472.56 565.1V573.6M472.56 86.8V78.3M477.13 565.1V573.6M477.13 86.8V78.3M481.70 565.1V573.6M481.70 86.8V78.3M486.28 565.1V573.6M486.28 86.8V78.3M490.85 565.1V573.6M490.85 86.8V78.3M495.42 565.1V573.6M495.42 86.8V78.3M500.00 565.1V573.6M500.00 86.8V78.3M504.57 565.1V573.6M504.57 86.8V78.3M509.14 565.1V573.6M509.14 86.8V78.3M513.71 565.1V573.6M513.71 86.8V78.3M518.29 565.1V573.6M518.29 86.8V78.3M522.86 565.1V573.6M522.86 86.8V78.3M527.43 565.1V573.6M527.43 86.8V78.3M532.01 565.1V573.6M532.01 86.8V78.3M536.58 565.1V573.6M536.58 86.8V78.3M541.15 565.1V573.6M541.15 86.8V78.3M545.73 565.1V573.6M545.73 86.8V78.3M550.30 565.1V573.6M550.30 86.8V78.3M554.87 565.1V573.6M554.87 86.8V78.3M559.45 565.1V573.6M559.45 86.8V78.3M564.02 565.1V573.6M564.02 86.8V78.3M568.59 565.1V573.6M568.59 86.8V78.3M573.17 565.1V573.6M573.17 86.8V78.3M577.74 565.1V573.6M577.74 86.8V78.3M582.31 565.1V573.6M582.31 86.8V78.3M586.89 565.1V573.6M586.89 86.8V78.3M591.46 565.1V573.6M591.46 86.8V78.3M596.03 565.1V573.6M596.03 86.8V78.3M600.61 565.1V573.6M600.61 86.8V78.3M605.18 565.1V573.6M605.18 86.8V78.3M609.75 565.1V573.6M609.75 86.8V78.3M614.33 565.1V573.6M614.33 86.8V78.3M618.90 565.1V573.6M618.90 86.8V78.3M623.47 565.1V573.6M623.47 86.8V78.3M628.04 565.1V573.6M628.04 86.8V78.3M632.62 565.1V573.6M632.62 86.8V78.3M637.19 565.1V573.6M637.19 86.8V78.3M641.76 565.1V573.6M641.76 86.8V78.3M646.34 565.1V573.6M646.34 86.8V78.3M650.91 565.1V573.6M650.91 86.8V78.3M655.48 565.1V573.6M655.48 86.8V78.3M660.06 565.1V573.6M660.06 86.8V78.3M664.63 565.1V573.6M664.63 86.8V78.3M669.20 565.1V573.6M669.20 86.8V78.3M673.78 565.1V573.6M673.78 86.8V78.3M678.35 565.1V573.6M678.35 86.8V78.3M682.92 565.1V573.6M682.92 86.8V78.3M687.50 565.1V573.6M687.50 86.8V78.3M692.07 565.1V573.6M692.07 86.8V78.3M696.64 565.1V573.6M696.64 86.8V78.3M701.22 565.1V573.6M701.22 86.8V78.3M705.79 565.1V573.6M705.79 86.8V78.3M710.36 565.1V573.6M710.36 86.8V78.3M714.94 565.1V573.6M714.94 86.8V78.3M719.51 565.1V573.6M719.51 86.8V78.3M724.08 565.1V573.6M724.08 86.8V78.3M728.66 565.1V573.6M728.66 86.8V78.3M733.23 565.1V573.6M733.23 86.8V78.3M737.80 565.1V573.6M737.80 86.8V78.3M742.37 565.1V573.6M742.37 86.8V78.3M746.95 565.1V573.6M746.95 86.8V78.3M751.52 565.1V573.6M751.52 86.8V78.3M756.09 565.1V573.6M756.09 86.8V78.3M760.67 565.1V573.6M760.67 86.8V78.3M765.24 565.1V573.6M765.24 86.8V78.3M769.81 565.1V573.6M769.81 86.8V78.3M774.39 565.1V573.6M774.39 86.8V78.3M778.96 565.1V573.6M778.96 86.8V78.3M783.53 565.1V573.6M783.53 86.8V78.3M788.11 565.1V573.6M788.11 86.8V78.3M792.68 565.1V573.6M792.68 86.8V78.3M797.25 565.1V573.6M797.25 86.8V78.3M801.83 565.1V573.6M801.83 86.8V78.3M806.40 565.1V573.6M806.40 86.8V78.3M810.97 565.1V573.6M810.97 86.8V78.3M815.55 565.1V573.6M815.55 86.8V78.3M820.12 565.1V573.6M820.12 86.8V78.3M824.69 565.1V573.6M824.69 86.8V78.3M829.27 565.1V573.6M829.27 86.8V78.3M833.84 565.1V573.6M833.84 86.8V78.3M838.41 565.1V573.6M838.41 86.8V78.3M842.99 565.1V573.6M842.99 86.8V78.3M847.56 565.1V573.6M847.56 86.8V78.3M852.13 565.1V573.6M852.13 86.8V78.3M856.70 565.1V573.6M856.70 86.8V78.3M861.28 565.1V573.6M861.28 86.8V78.3M865.85 565.1V573.6M865.85 86.8V78.3M870.42 565.1V573.6M870.42 86.8V78.3M875.00 565.1V573.6M875.00 86.8V78.3M879.57 565.1V573.6M879.57 86.8V78.3M884.14 565.1V573.6M884.14 86.8V78.3M888.72 565.1V573.6M888.72 86.8V78.3M893.29 565.1V573.6M893.29 86.8V78.3M897.86 565.1V573.6M897.86 86.8V78.3M902.44 565.1V573.6M902.44 86.8V78.3M907.01 565.1V573.6M907.01 86.8V78.3M911.58 565.1V573.6M911.58 86.8V78.3M916.16 565.1V573.6M916.16 86.8V78.3M920.73 565.1V573.6M920.73 86.8V78.3M925.30 565.1V573.6M925.30 86.8V78.3M929.88 565.1V573.6M929.88 86.8V78.3M934.45 565.1V573.6M934.45 86.8V78.3M939.02 565.1V573.6M939.02 86.8V78.3M106.7 546.71H98.2M942.5 546.71H951.0M106.7 528.31H98.2M942.5 528.31H951.0M106.7 509.92H98.2M942.5 509.92H951.0M106.7 473.13H98.2M942.5 473.13H951.0M106.7 454.73H98.2M942.5 454.73H951.0M106.7 436.34H98.2M942.5 436.34H951.0M106.7 399.55H98.2M942.5 399.55H951.0M106.7 381.16H98.2M942.5 381.16H951.0M106.7 362.76H98.2M942.5 362.76H951.0M106.7 325.98H98.2M942.5 325.98H951.0M106.7 307.58H98.2M942.5 307.58H951.0M106.7 289.19H98.2M942.5 289.19H951.0M106.7 252.40H98.2M942.5 252.40H951.0M106.7 234.00H98.2M942.5 234.00H951.0M106.7 215.61H98.2M942.5 215.61H951.0M106.7 178.82H98.2M942.5 178.82H951.0M106.7 160.43H98.2M942.5 160.43H951.0M106.7 142.03H98.2M942.5 142.03H951.0M106.7 105.24H98.2M942.5 105.24H951.0M106.7 86.85H98.2M942.5 86.85H951.0" stroke="#444" stroke-width="0.9" stroke-opacity="0.62" fill="none"/>
<g font-size="22.6" text-anchor="middle">
<text x="106.8" y="614.2">Jun</text>
<text x="175.4" y="614.2">Jul</text>
<text x="246.3" y="614.2">Aug</text>
<text x="317.2" y="614.2">Sep</text>
<text x="385.8" y="614.2">Oct</text>
<text x="456.6" y="614.2">Nov</text>
<text x="525.2" y="614.2">Dec</text>
<text x="596.1" y="614.2">Jan</text>
<text x="667.0" y="614.2">Feb</text>
<text x="733.3" y="614.2">Mar</text>
<text x="804.2" y="614.2">Apr</text>
<text x="872.8" y="614.2">May</text>
</g>
<g font-size="22.6" text-anchor="end">
<text x="74.9" y="572.6">-40</text>
<text x="74.9" y="499.0">-20</text>
<text x="74.9" y="425.4">0</text>
<text x="74.9" y="351.9">20</text>
<text x="74.9" y="278.3">40</text>
<text x="74.9" y="204.7">60</text>
<text x="74.9" y="131.1">80</text>
</g>
<text x="524.6" y="24.2" font-size="32.85" text-anchor="middle">2019/2020 Season</text>
<text x="942.6" y="64" font-size="20.95" text-anchor="end">zonal mean zonal wind climatology, analysis, &amp; foreacast</text>
<text x="105.4" y="68.1" font-size="20.95">10 hPa</text>
<text x="176.2" y="68.1" font-size="20.95">65<tspan font-size="14" dy="-9.2">o</tspan><tspan dy="9.2">N</tspan></text>
<text transform="translate(20.4,324.9) rotate(-90)" font-size="27.7" text-anchor="middle">zonal wind (m/s)</text>
<text x="112.5" y="559.8" font-size="16.5">Hannah E. Attard</text>
<g font-size="13">
<text x="136.6" y="109.2">0.5<tspan font-size="8.5" dy="-6.2">o</tspan><tspan dy="6.2" dx="7.4">GFS</tspan></text>
<line x1="123.8" y1="122" x2="158.8" y2="122" stroke="#ff0000" stroke-width="1.8"/>
<text x="159" y="126.7">forecast</text>
<line x1="123.8" y1="144" x2="158.8" y2="144" stroke="#0000ff" stroke-width="1.8"/>
<text x="158.8" y="147.3">analysis</text>
<text x="133.7" y="170.8">0.5<tspan font-size="8.5" dy="-6.2">o</tspan><tspan dy="6.2" dx="3.2">CFSR</tspan></text>
<line x1="113.8" y1="181.8" x2="150.9" y2="181.8" stroke="#000" stroke-width="1.2"/>
<text x="150.6" y="184.6">climatology</text>
<rect x="113.4" y="193.6" width="39" height="6.6" fill="#8c8c8c" stroke="#6c6c6c" stroke-width="1"/>
<text x="163.2" y="201">1<tspan class="sym" font-size="15.5">σ</tspan></text>
<rect x="113.4" y="210.6" width="38.6" height="6.4" fill="#c0c0c0" stroke="#8e8e8e" stroke-width="1"/>
<text x="163.2" y="217.9">2<tspan class="sym" font-size="15.5">σ</tspan></text>
</g>
<rect x="99.5" y="44.4" width="74" height="29.2" fill="none" stroke="#000000" stroke-width="5"/>
<rect x="174.4" y="44.3" width="54.2" height="30" fill="none" stroke="#ff7f27" stroke-width="4.6"/>
<rect x="469.6" y="43.3" width="56" height="27.2" fill="none" stroke="#22b14c" stroke-width="4.8"/>
</svg></body></html>
